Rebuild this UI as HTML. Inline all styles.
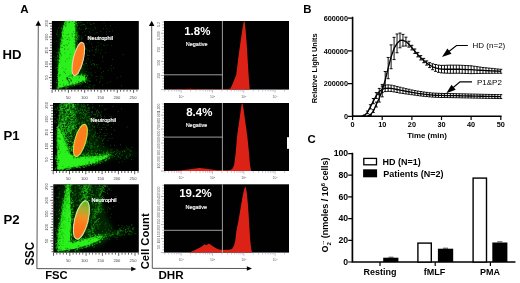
<!DOCTYPE html>
<html><head><meta charset="utf-8"><title>Figure</title>
<style>
html,body{margin:0;padding:0;background:#fff;}
svg{display:block;}
text{font-family:"Liberation Sans", sans-serif;}
.b{font-weight:bold;}
</style></head><body>
<svg width="520" height="283" viewBox="0 0 520 283">
<defs>
<filter id="bl1" x="-20%" y="-20%" width="140%" height="140%"><feGaussianBlur stdDeviation="0.7"/></filter>
<filter id="bl2" x="-30%" y="-30%" width="160%" height="160%"><feGaussianBlur stdDeviation="2"/></filter>
<filter id="bl0" x="-5%" y="-5%" width="110%" height="110%"><feGaussianBlur stdDeviation="0.35"/></filter>
<linearGradient id="og3" x1="0" y1="0" x2="0" y2="1"><stop offset="0" stop-color="#62b42a"/><stop offset="0.22" stop-color="#a4b030"/><stop offset="0.42" stop-color="#ee9222"/><stop offset="0.62" stop-color="#ff781a"/><stop offset="1" stop-color="#ff6c18"/></linearGradient>
</defs>
<rect width="520" height="283" fill="#fff"/>
<g opacity="0.999">
<g>
<rect x="51.9" y="21.0" width="86.9" height="68.6" fill="#000"/>
<clipPath id="c1"><rect x="52.4" y="21.0" width="86.4" height="68.6"/></clipPath>
<g clip-path="url(#c1)">
<polygon points="61.0,21.0 77.5,21.0 78.0,45.0 86.0,72.0 88.0,82.0 57.0,90.0 56.5,60.0" fill="#18c010" fill-opacity="0.22" filter="url(#bl2)"/>
<polygon points="64.8,21.0 75.4,21.0 75.6,50.0 74.5,60.0 73.0,70.0 72.0,76.0 78.0,75.8 84.6,74.4 85.4,80.4 75.0,84.0 58.0,88.4 58.0,72.0 59.0,58.0 60.5,45.0 62.6,30.0" fill="#2cf01a" filter="url(#bl1)"/>
<path d="M73.7 84.6h1.0M71.6 20.7h1.0M75.9 50.9h1.0M77.9 75.4h1.0M76.7 43.1h1.0M73.6 75.3h1.0M57.3 78.4h1.0M85.5 77.8h1.0M76.1 54.7h1.0M60.3 43.2h1.0M57.6 69.4h1.0M81.9 82.2h1.0M71.9 20.2h1.0M67.5 87.3h1.0M60.2 43.1h1.0M66.3 88.0h1.0M84.3 81.0h1.0M57.7 74.5h1.0M74.3 61.9h1.0M76.0 75.8h1.0M85.4 79.4h1.0M76.5 25.0h1.0M81.2 74.6h1.0M77.0 37.7h1.0M64.3 86.8h1.0M73.0 73.9h1.0M57.1 76.5h1.0M77.5 84.2h1.0M74.6 20.1h1.0M57.3 56.9h1.0M77.2 75.5h1.0M75.6 28.8h1.0M85.7 80.1h1.0M72.8 72.3h1.0M75.8 37.0h1.0M60.2 45.3h1.0M72.6 75.3h1.0M57.7 60.4h1.0M56.8 67.5h1.0M76.3 51.6h1.0M70.0 20.9h1.0M69.9 20.9h1.0M61.0 28.2h1.0M62.5 28.8h1.0M58.7 49.3h1.0M76.5 25.8h1.0M57.2 59.8h1.0M57.9 65.7h1.0M77.8 73.5h1.0M76.0 41.2h1.0M55.8 82.6h1.0M72.8 73.7h1.0M67.4 20.9h1.0M62.9 26.0h1.0M61.3 32.6h1.0M84.8 75.5h1.0M76.8 48.6h1.0M75.1 56.0h1.0M75.2 57.4h1.0M73.4 74.4h1.0M74.5 84.7h1.0M84.5 81.3h1.0M57.4 70.2h1.0M76.8 83.7h1.0M69.5 85.9h1.0M75.3 55.4h1.0M86.8 75.8h1.0M60.5 88.9h1.0M58.0 76.1h1.0M86.0 77.6h1.0M62.2 31.3h1.0M76.3 57.5h1.0M76.1 35.2h1.0M75.8 32.4h1.0M76.2 23.6h1.0M59.9 39.1h1.0M75.8 38.4h1.0M76.8 36.3h1.0M62.6 29.3h1.0M77.7 73.1h1.0M76.5 39.6h1.0M76.2 45.9h1.0M70.5 85.3h1.0M58.3 88.7h1.0M64.1 23.6h1.0M74.7 58.5h1.0M76.2 33.9h1.0M75.7 57.3h1.0M57.4 74.7h1.0M58.7 56.4h1.0M60.2 45.4h1.0M85.7 77.9h1.0M74.0 66.9h1.0M77.6 44.7h1.0M58.6 53.2h1.0M77.3 74.5h1.0M64.0 24.1h1.0M56.8 86.4h1.0M79.4 75.3h1.0M75.5 23.2h1.0M76.2 40.0h1.0M56.5 80.2h1.0M76.2 38.9h1.0M63.0 25.7h1.0M63.1 27.0h1.0M73.6 66.3h1.0M84.3 81.4h1.0M79.0 82.6h1.0M65.7 21.0h1.0M65.3 88.0h1.0M57.7 82.5h1.0M73.7 69.4h1.0M56.4 88.0h1.0M75.9 84.2h1.0M58.3 51.8h1.0M57.1 76.0h1.0M57.0 87.9h1.0M57.6 88.2h1.0M65.4 20.1h1.0M59.1 57.2h1.0M74.0 85.4h1.0M75.6 23.9h1.0M75.4 75.7h1.0M83.6 81.7h1.0M59.8 89.4h1.0M58.0 67.0h1.0M75.6 21.4h1.0M57.7 79.2h1.0M85.3 78.9h1.0M74.8 59.0h1.0M65.7 86.6h1.0M77.7 36.1h1.0M75.8 34.4h1.0M57.7 52.9h1.0M57.9 74.2h1.0M69.3 20.4h1.0M65.5 20.0h1.0M75.9 35.9h1.0M77.2 32.1h1.0M61.6 34.0h1.0M75.9 63.1h1.0M73.5 73.4h1.0M72.7 75.6h1.0M61.6 32.3h1.0M75.1 55.5h1.0M58.9 54.5h1.0M71.6 86.0h1.0M58.0 65.3h1.0M73.7 20.4h1.0M74.0 64.3h1.0M77.2 57.8h1.0M57.6 82.8h1.0M80.7 74.2h1.0M80.9 74.3h1.0M72.9 71.5h1.0M75.8 21.6h1.0M79.6 83.7h1.0M76.9 49.5h1.0M68.8 19.5h1.0M70.6 20.5h1.0M85.0 82.5h1.0M76.9 55.6h1.0M62.2 31.3h1.0M57.4 63.0h1.0M85.4 78.6h1.0M58.8 59.9h1.0M74.3 65.4h1.0M75.5 33.6h1.0" stroke="#22d816" stroke-width="1.0" stroke-opacity="0.70" fill="none"/>
<path d="M72.4 68.8h0.9M74.4 23.5h0.9M78.5 82.6h0.9M75.3 26.8h0.9M83.0 75.0h0.9M59.1 88.0h0.9M65.4 25.6h0.9M73.6 62.7h0.9M74.9 36.5h0.9M60.0 53.9h0.9M71.5 84.6h0.9M75.5 47.7h0.9M64.8 86.3h0.9M59.5 75.0h0.9M73.0 31.8h0.9M81.8 75.0h0.9M63.1 85.8h0.9M63.0 30.8h0.9M59.7 84.4h0.9M75.3 40.8h0.9M58.9 62.5h0.9M75.5 33.8h0.9M61.5 44.0h0.9M61.3 41.8h0.9M60.0 53.3h0.9M70.5 74.9h0.9M75.5 42.3h0.9M82.2 80.8h0.9M82.0 75.0h0.9M61.7 38.9h0.9M58.2 86.7h0.9M74.8 21.7h0.9M75.3 39.8h0.9M72.7 71.8h0.9M75.5 37.8h0.9M60.9 43.4h0.9M59.8 87.5h0.9M71.9 73.0h0.9M72.2 77.2h0.9M65.7 22.5h0.9M75.4 28.9h0.9M73.8 39.7h0.9M69.0 22.1h0.9M72.1 83.6h0.9M64.1 24.8h0.9M75.4 40.7h0.9M72.7 69.9h0.9M65.7 24.0h0.9M60.8 47.3h0.9M58.7 76.2h0.9M65.0 23.3h0.9M75.0 51.4h0.9M75.2 46.0h0.9M62.6 38.9h0.9M59.3 56.8h0.9M59.0 58.7h0.9M72.2 70.3h0.9M79.1 77.0h0.9M74.3 33.4h0.9M60.9 55.8h0.9M74.3 36.9h0.9M64.6 86.0h0.9M61.9 37.0h0.9M61.8 38.0h0.9M82.4 75.8h0.9M75.5 82.8h0.9M75.4 43.6h0.9M65.5 21.2h0.9M70.2 85.2h0.9M78.0 81.4h0.9M69.1 85.4h0.9M59.5 75.0h0.9M69.1 83.9h0.9M75.0 54.0h0.9M61.6 41.9h0.9M60.0 50.9h0.9M72.3 71.6h0.9M68.3 22.3h0.9M72.9 70.3h0.9M59.4 58.9h0.9M72.0 21.1h0.9M82.8 76.2h0.9M74.5 37.5h0.9M74.2 26.6h0.9M83.2 75.2h0.9M74.2 23.5h0.9M75.2 25.6h0.9M63.0 34.1h0.9M73.9 58.8h0.9M74.4 53.5h0.9" stroke="#042600" stroke-width="0.9" stroke-opacity="0.55" fill="none"/>
<path d="M66.8 79.8h1.1M70.8 80.7h1.1M70.3 79.9h1.1M66.4 78.7h1.1M70.8 81.0h1.1M66.8 77.6h1.1M68.0 80.9h1.1M67.5 78.8h1.1M69.0 82.1h1.1M66.4 77.7h1.1M67.0 79.6h1.1M69.1 78.5h1.1" stroke="#021" stroke-width="1.1" stroke-opacity="0.75" fill="none"/>
<path d="M71.8 34.8h0.9M64.1 72.3h0.9M66.1 85.2h0.9M71.6 33.6h0.9M64.1 49.1h0.9M62.0 47.5h0.9M63.8 86.7h0.9M82.6 80.6h0.9M63.1 84.1h0.9M68.2 43.4h0.9M65.7 44.7h0.9M67.8 76.4h0.9M68.2 83.0h0.9M63.3 45.6h0.9M69.3 75.7h0.9M78.5 81.6h0.9M67.3 39.4h0.9M65.2 69.3h0.9M66.7 39.6h0.9M58.1 71.9h0.9M64.4 53.0h0.9M68.6 37.9h0.9M69.8 54.3h0.9M74.6 43.1h0.9M66.8 45.4h0.9M63.4 71.7h0.9M64.8 25.4h0.9M65.3 26.7h0.9M60.6 54.6h0.9M64.4 49.1h0.9M78.5 78.1h0.9M73.5 46.1h0.9M64.8 37.5h0.9M62.2 80.6h0.9M73.8 43.0h0.9M71.9 36.6h0.9M71.0 76.2h0.9M65.1 73.4h0.9M64.0 45.9h0.9M65.0 61.4h0.9M66.6 34.7h0.9M68.8 58.1h0.9M62.5 67.9h0.9M69.2 40.1h0.9M66.4 85.2h0.9M66.6 59.2h0.9M67.8 49.1h0.9M68.0 34.3h0.9M58.2 81.8h0.9M69.6 76.3h0.9" stroke="#031a00" stroke-width="0.9" stroke-opacity="0.45" fill="none"/>
<path d="M105.3 52.7h0.9M95.6 32.8h0.9M97.4 64.7h0.9M78.0 82.6h0.9M96.1 46.7h0.9M88.6 55.6h0.9M84.4 56.7h0.9M87.0 83.6h0.9M91.3 75.6h0.9M88.5 86.4h0.9M78.9 84.8h0.9M84.4 87.0h0.9M81.6 83.7h0.9M76.6 47.8h0.9M95.5 76.9h0.9M89.4 32.7h0.9M78.7 48.9h0.9M87.7 78.4h0.9M81.2 36.5h0.9M85.5 48.6h0.9M92.6 30.2h0.9M77.9 38.5h0.9M81.7 24.7h0.9M111.8 59.5h0.9M76.2 77.8h0.9M80.7 29.8h0.9M93.4 63.8h0.9M88.6 42.4h0.9M95.7 50.4h0.9M86.8 65.9h0.9M93.2 23.6h0.9M82.0 63.2h0.9M88.4 72.9h0.9M76.8 73.9h0.9M86.3 53.5h0.9M78.8 29.1h0.9M88.5 28.1h0.9M89.0 51.4h0.9M80.9 64.4h0.9M76.3 27.5h0.9M79.1 56.1h0.9M105.3 25.6h0.9M92.6 85.3h0.9M76.4 31.1h0.9M111.3 70.8h0.9M120.3 76.3h0.9M92.7 54.8h0.9M121.1 85.7h0.9M84.8 74.5h0.9M81.1 84.0h0.9M90.5 72.4h0.9M82.3 32.6h0.9M86.9 76.3h0.9M84.3 31.6h0.9M114.2 35.9h0.9M76.5 39.5h0.9M90.9 24.5h0.9M76.6 34.1h0.9M97.1 67.3h0.9M109.9 81.6h0.9M90.6 29.7h0.9M102.0 57.3h0.9M86.5 80.1h0.9M88.1 59.0h0.9M106.8 29.0h0.9M93.0 88.1h0.9M87.7 75.1h0.9M88.4 39.6h0.9M98.3 46.0h0.9M77.3 72.9h0.9M85.9 71.5h0.9M79.8 25.2h0.9M81.5 64.6h0.9M87.8 87.5h0.9M97.5 42.8h0.9M88.9 22.1h0.9M85.5 63.0h0.9M78.0 50.8h0.9M112.0 30.8h0.9M78.9 37.1h0.9M78.1 22.2h0.9M79.0 45.6h0.9M88.5 36.9h0.9M85.9 60.9h0.9M85.7 63.6h0.9M82.1 53.6h0.9M102.5 38.2h0.9M105.9 31.9h0.9M96.0 80.0h0.9M89.7 74.1h0.9M86.9 22.8h0.9M83.7 65.0h0.9M90.6 65.0h0.9M82.0 51.6h0.9M101.5 38.5h0.9M86.6 82.2h0.9M96.1 49.0h0.9M81.7 37.8h0.9M103.6 22.8h0.9M86.6 58.7h0.9M84.8 35.3h0.9M79.4 62.5h0.9M100.3 76.2h0.9M77.1 33.6h0.9M81.2 25.2h0.9M89.4 81.2h0.9M81.5 22.4h0.9M102.4 78.2h0.9M76.6 71.4h0.9M95.0 52.1h0.9M77.2 37.5h0.9M83.9 24.6h0.9M90.5 68.3h0.9M100.3 78.3h0.9M79.2 58.9h0.9M89.0 51.0h0.9M81.0 39.7h0.9M96.1 64.8h0.9M87.6 80.6h0.9M78.6 23.0h0.9M76.8 71.5h0.9M88.5 84.9h0.9M76.4 80.6h0.9M91.1 43.9h0.9M78.5 64.0h0.9M113.0 68.1h0.9M100.0 53.3h0.9M116.7 77.9h0.9M86.8 51.1h0.9M107.8 70.3h0.9M89.2 36.1h0.9M82.2 63.5h0.9M109.0 31.6h0.9M93.6 23.8h0.9M106.6 45.0h0.9M100.3 31.4h0.9M80.9 68.1h0.9M76.9 64.2h0.9M85.1 26.4h0.9M102.3 61.3h0.9M96.5 76.6h0.9M99.7 81.4h0.9M107.3 82.9h0.9M89.8 84.9h0.9M85.0 29.5h0.9M83.2 24.3h0.9M93.9 64.2h0.9M101.4 76.9h0.9M85.5 28.7h0.9M86.3 28.5h0.9M76.5 43.3h0.9M87.5 50.2h0.9M89.0 40.8h0.9M77.7 69.7h0.9M86.1 86.2h0.9M87.0 55.5h0.9M90.0 24.1h0.9M95.0 49.5h0.9M103.0 45.1h0.9M87.4 68.9h0.9M87.5 79.4h0.9M78.8 28.1h0.9M80.4 22.1h0.9M85.4 35.5h0.9M79.6 22.3h0.9M122.8 54.7h0.9M106.3 34.3h0.9M77.6 54.9h0.9M94.4 39.4h0.9M102.3 84.9h0.9M78.5 68.6h0.9M87.6 55.2h0.9M94.6 27.4h0.9M91.4 74.5h0.9M85.7 63.8h0.9M104.3 45.7h0.9M89.9 81.3h0.9M85.9 27.7h0.9M78.9 35.7h0.9M78.5 39.5h0.9M92.3 47.3h0.9M87.7 80.9h0.9M77.9 57.4h0.9M94.8 72.2h0.9M76.5 45.2h0.9M100.5 43.8h0.9M94.3 66.1h0.9M103.1 71.4h0.9M84.8 73.5h0.9M92.0 60.6h0.9M89.3 80.9h0.9M89.5 37.8h0.9M81.2 68.8h0.9M89.4 78.2h0.9M81.6 38.5h0.9M84.2 43.7h0.9M86.0 43.8h0.9M77.4 34.6h0.9M103.1 28.8h0.9M80.3 86.1h0.9M89.4 87.5h0.9M86.0 74.9h0.9M77.9 35.1h0.9M94.1 64.5h0.9M85.1 47.9h0.9M83.2 24.3h0.9M100.2 68.2h0.9M93.8 55.3h0.9M88.8 31.4h0.9M90.0 62.2h0.9M99.1 82.5h0.9M91.7 50.6h0.9M101.3 50.0h0.9M88.7 37.2h0.9M82.1 73.6h0.9M110.5 68.6h0.9M91.4 64.7h0.9M96.5 52.2h0.9M85.2 28.5h0.9M98.1 49.9h0.9M81.4 63.9h0.9M102.3 38.7h0.9M92.6 63.4h0.9M84.7 49.3h0.9M93.8 34.2h0.9M111.0 65.6h0.9M79.0 54.6h0.9M92.6 86.9h0.9M96.7 32.7h0.9M81.1 74.1h0.9M95.2 28.7h0.9M83.5 60.3h0.9M102.1 56.1h0.9M82.9 64.6h0.9M85.8 49.3h0.9M94.2 85.1h0.9M82.4 48.1h0.9M101.0 72.8h0.9M111.3 45.7h0.9M110.1 25.8h0.9" stroke="#1c9a16" stroke-width="0.9" stroke-opacity="0.50" fill="none"/>
<path d="M55.8 41.2h0.9M53.6 42.1h0.9M57.1 55.5h0.9M56.5 34.7h0.9M55.4 57.6h0.9M61.5 47.3h0.9M55.4 60.5h0.9M56.8 32.2h0.9M54.6 59.3h0.9M60.4 52.4h0.9M57.5 49.0h0.9M55.4 68.3h0.9M56.5 52.7h0.9M60.5 61.2h0.9M57.5 36.1h0.9M58.2 28.0h0.9M60.6 39.0h0.9M60.7 34.8h0.9M56.7 34.2h0.9M57.1 30.9h0.9M53.5 56.6h0.9M55.9 33.8h0.9" stroke="#1c9a16" stroke-width="0.9" stroke-opacity="0.50" fill="none"/>
</g>
<ellipse cx="78.3" cy="59.0" rx="5.0" ry="17.0" transform="rotate(13.5 78.3 59.0)" fill="#ff7d1a" stroke="#ecd4b4" stroke-width="1.1"/>
<text x="87.6" y="40.2" font-size="5.2" fill="#fff" stroke="#fff" stroke-width="0.2" textLength="25.4" lengthAdjust="spacingAndGlyphs">Neutrophil</text>
<path d="M52.1 89.6v3.2M55.4 89.6v2.0M58.6 89.6v2.0M61.9 89.6v2.0M65.1 89.6v2.0M68.4 89.6v3.2M71.7 89.6v2.0M74.9 89.6v2.0M78.2 89.6v2.0M81.4 89.6v2.0M84.7 89.6v3.2M88.0 89.6v2.0M91.2 89.6v2.0M94.5 89.6v2.0M97.7 89.6v2.0M101.0 89.6v3.2M104.3 89.6v2.0M107.5 89.6v2.0M110.8 89.6v2.0M114.0 89.6v2.0M117.3 89.6v3.2M120.6 89.6v2.0M123.8 89.6v2.0M127.1 89.6v2.0M130.3 89.6v2.0M133.6 89.6v3.2M136.9 89.6v2.0" stroke="#333" stroke-width="0.8" fill="none"/>
<text x="68.2" y="98.6" font-size="4.1" fill="#444" text-anchor="middle">50</text>
<text x="84.4" y="98.6" font-size="4.1" fill="#444" text-anchor="middle">100</text>
<text x="100.6" y="98.6" font-size="4.1" fill="#444" text-anchor="middle">150</text>
<text x="116.8" y="98.6" font-size="4.1" fill="#444" text-anchor="middle">200</text>
<text x="133.0" y="98.6" font-size="4.1" fill="#444" text-anchor="middle">250</text>
<path d="M48.9 23.4h3.0M50.1 26.1h1.8M50.1 28.8h1.8M50.1 31.5h1.8M50.1 34.2h1.8M48.9 37.0h3.0M50.1 39.7h1.8M50.1 42.4h1.8M50.1 45.1h1.8M50.1 47.8h1.8M48.9 50.5h3.0M50.1 53.2h1.8M50.1 55.9h1.8M50.1 58.6h1.8M50.1 61.3h1.8M48.9 64.0h3.0M50.1 66.8h1.8M50.1 69.5h1.8M50.1 72.2h1.8M50.1 74.9h1.8M48.9 77.6h3.0M50.1 80.3h1.8M50.1 83.0h1.8M50.1 85.7h1.8M50.1 88.4h1.8" stroke="#333" stroke-width="0.8" fill="none"/>
<text transform="translate(47.6 23.4) rotate(-90)" font-size="4.1" fill="#444" text-anchor="middle">250</text>
<text transform="translate(47.6 37.0) rotate(-90)" font-size="4.1" fill="#444" text-anchor="middle">200</text>
<text transform="translate(47.6 50.5) rotate(-90)" font-size="4.1" fill="#444" text-anchor="middle">150</text>
<text transform="translate(47.6 64.1) rotate(-90)" font-size="4.1" fill="#444" text-anchor="middle">100</text>
<text transform="translate(47.6 77.6) rotate(-90)" font-size="4.1" fill="#444" text-anchor="middle">50</text>
</g>
<g>
<rect x="53.0" y="103.0" width="85.8" height="68.0" fill="#000"/>
<clipPath id="c2"><rect x="53.5" y="103.0" width="85.3" height="68.0"/></clipPath>
<g clip-path="url(#c2)">
<polygon points="64.0,103.0 86.0,103.0 92.0,128.0 104.0,146.0 114.0,152.0 112.0,158.0 98.0,164.0 60.0,172.0 60.0,130.0" fill="#18c010" fill-opacity="0.16" filter="url(#bl2)"/>
<polygon points="86.0,153.0 112.0,149.5 136.0,150.5 138.5,156.0 112.0,160.0 95.0,163.0" fill="#1fd015" fill-opacity="0.08" filter="url(#bl2)"/>
<polygon points="61.0,103.0 74.2,103.0 74.6,125.0 73.5,140.0 72.0,152.0 60.0,152.0 57.4,140.0 58.0,125.0 59.5,112.0" fill="#189a12" filter="url(#bl1)"/>
<path d="M62.6 126.5h1.0M64.8 134.2h1.0M68.7 120.8h1.0M58.4 143.6h1.0M73.0 141.4h1.0M59.8 143.7h1.0M68.3 103.7h1.0M68.7 115.3h1.0M61.4 141.0h1.0M63.4 110.5h1.0M73.0 141.8h1.0M60.3 146.7h1.0M67.9 141.3h1.0M68.9 146.8h1.0M71.0 144.1h1.0M60.8 136.9h1.0M66.5 139.4h1.0M64.9 146.3h1.0M66.9 116.0h1.0M61.4 109.8h1.0M65.9 105.9h1.0M65.4 110.1h1.0M65.9 127.4h1.0M66.7 145.3h1.0M65.4 130.6h1.0M68.8 144.2h1.0M63.8 123.5h1.0M73.9 106.7h1.0M68.4 134.2h1.0M57.9 132.9h1.0M69.1 148.6h1.0M63.1 151.1h1.0M66.2 126.7h1.0M72.8 104.7h1.0M69.8 133.6h1.0M63.2 145.2h1.0M63.7 126.3h1.0M66.4 140.8h1.0M61.0 124.3h1.0M64.7 130.1h1.0M71.6 117.4h1.0M71.6 122.8h1.0M66.1 116.3h1.0M66.1 150.8h1.0M68.7 141.8h1.0M63.1 118.5h1.0M62.5 131.7h1.0M68.3 141.4h1.0M58.1 138.4h1.0M72.6 129.7h1.0M73.2 132.8h1.0M68.7 141.7h1.0M73.0 133.0h1.0M68.0 133.7h1.0M69.4 132.2h1.0M69.1 113.4h1.0M68.9 125.4h1.0M70.5 108.0h1.0M70.7 147.8h1.0M68.7 121.1h1.0M71.5 141.5h1.0M67.1 115.6h1.0M62.6 123.7h1.0M62.9 124.1h1.0M68.4 148.8h1.0M58.3 130.8h1.0M71.3 131.2h1.0M73.2 124.9h1.0M67.6 148.9h1.0M74.3 126.3h1.0M64.5 108.0h1.0M68.5 113.4h1.0M58.9 145.6h1.0M69.8 114.9h1.0M70.0 112.2h1.0M58.3 140.9h1.0M69.7 144.9h1.0M70.0 107.1h1.0M68.2 137.8h1.0M65.3 148.7h1.0M61.8 150.3h1.0M69.7 103.6h1.0M57.7 134.9h1.0M71.5 106.9h1.0M62.8 138.7h1.0M60.3 145.2h1.0M65.8 105.9h1.0M63.7 131.2h1.0M64.9 136.2h1.0M59.9 142.1h1.0M63.6 134.6h1.0M68.2 123.5h1.0M64.0 141.5h1.0M67.1 117.3h1.0M69.5 143.5h1.0M63.1 132.7h1.0M67.7 118.1h1.0M64.8 146.5h1.0M63.9 136.6h1.0M67.8 146.9h1.0M71.3 116.9h1.0M64.7 131.7h1.0M71.4 146.5h1.0M71.4 145.5h1.0M67.2 116.4h1.0M72.0 142.5h1.0M69.2 147.8h1.0M63.4 107.2h1.0M66.9 142.1h1.0M60.8 139.8h1.0M73.4 114.5h1.0M67.8 136.2h1.0M65.4 113.1h1.0M61.8 139.8h1.0M71.0 125.5h1.0M58.9 142.5h1.0M70.7 114.4h1.0M67.4 146.9h1.0M72.6 128.6h1.0M65.6 131.9h1.0M60.7 112.4h1.0M60.5 137.4h1.0M63.6 130.7h1.0M64.3 128.3h1.0M59.2 134.0h1.0M70.9 110.7h1.0M67.7 119.9h1.0M66.3 104.0h1.0M72.3 126.8h1.0M67.2 115.8h1.0M70.8 123.9h1.0M71.5 150.2h1.0M61.8 104.9h1.0M60.9 111.9h1.0M67.0 145.7h1.0M65.3 149.4h1.0M73.1 106.1h1.0M67.7 122.5h1.0M61.8 130.7h1.0M68.4 149.9h1.0M68.9 122.3h1.0M65.1 110.8h1.0M61.2 104.9h1.0M61.8 120.2h1.0M71.8 105.3h1.0M70.9 137.8h1.0M68.5 151.3h1.0M70.4 149.0h1.0M69.0 117.6h1.0M67.6 140.1h1.0M59.2 118.9h1.0M61.8 109.1h1.0M65.7 111.3h1.0M61.5 110.0h1.0M69.1 103.6h1.0M69.7 112.6h1.0M61.2 148.8h1.0M72.3 146.5h1.0M59.8 124.9h1.0M71.9 133.8h1.0M65.2 119.6h1.0M71.6 126.4h1.0M68.2 110.0h1.0M61.2 105.8h1.0M69.7 130.1h1.0M59.9 145.7h1.0M62.0 123.2h1.0M60.1 116.3h1.0M71.8 119.4h1.0M60.3 127.1h1.0M62.9 147.3h1.0M68.9 113.3h1.0M65.6 117.0h1.0M61.8 112.9h1.0M63.7 151.6h1.0M59.1 117.2h1.0M72.8 105.8h1.0M69.9 117.4h1.0M71.3 119.7h1.0M71.7 128.8h1.0M60.6 124.3h1.0M73.1 113.7h1.0M67.2 109.8h1.0M60.5 140.8h1.0M69.6 112.6h1.0M67.9 127.3h1.0M62.1 113.1h1.0M67.9 137.7h1.0M71.4 131.6h1.0M60.9 106.2h1.0M70.0 123.0h1.0M69.8 105.7h1.0M71.3 119.4h1.0M71.9 145.4h1.0M65.9 103.8h1.0M73.1 126.4h1.0M72.4 116.0h1.0M60.6 143.7h1.0M63.7 111.0h1.0M63.8 132.1h1.0M65.1 128.3h1.0M59.5 138.0h1.0M71.4 145.4h1.0M62.9 137.8h1.0M64.0 139.8h1.0M73.8 127.2h1.0M66.2 129.0h1.0M66.6 104.0h1.0M74.0 114.0h1.0M60.5 108.0h1.0M61.7 143.0h1.0M69.4 112.6h1.0M67.3 128.6h1.0M69.5 108.0h1.0M72.4 138.1h1.0M65.9 127.5h1.0M62.2 109.0h1.0M64.4 109.7h1.0M67.6 145.2h1.0M59.9 131.1h1.0M70.2 111.1h1.0M71.6 148.9h1.0M64.1 123.6h1.0M71.8 128.8h1.0M64.2 149.1h1.0M70.8 119.6h1.0M61.5 119.4h1.0M64.9 151.1h1.0M71.2 147.7h1.0M71.4 144.5h1.0M58.3 128.4h1.0M61.7 123.7h1.0M68.3 120.9h1.0M66.5 106.4h1.0M64.8 127.7h1.0M73.5 134.0h1.0M71.3 146.3h1.0M72.6 104.7h1.0M68.4 116.0h1.0M69.1 116.4h1.0M66.7 148.3h1.0M68.1 115.3h1.0M66.3 124.3h1.0M73.8 117.1h1.0M62.7 134.7h1.0M59.5 132.1h1.0M73.8 128.2h1.0M62.0 125.9h1.0M66.6 110.3h1.0M62.4 122.9h1.0M62.4 114.9h1.0M58.9 129.8h1.0M71.8 132.9h1.0M67.2 134.9h1.0M60.9 137.8h1.0M65.3 129.9h1.0M67.9 126.0h1.0M62.7 114.9h1.0M61.2 128.1h1.0M64.0 131.7h1.0" stroke="#30f01c" stroke-width="1.0" stroke-opacity="0.80" fill="none"/>
<polygon points="57.4,126.0 60.0,130.0 63.0,136.0 65.2,142.0 67.0,148.0 69.5,152.0 72.5,155.5 76.3,157.4 85.0,156.4 95.0,155.9 106.0,155.0 110.5,155.6 107.0,157.8 94.7,163.3 76.3,166.8 57.4,169.9" fill="#2cf01a" filter="url(#bl1)"/>
<path d="M72.2 114.7h1.0M67.0 127.1h1.0M72.4 124.6h1.0M58.5 122.0h1.0M65.0 139.0h1.0M59.3 114.0h1.0M60.1 119.5h1.0M63.5 136.1h1.0M68.0 144.6h1.0M71.5 128.4h1.0M70.1 139.4h1.0M70.5 126.3h1.0M70.9 137.7h1.0M73.1 109.2h1.0M72.4 103.2h1.0M70.6 131.7h1.0M67.2 123.5h1.0M70.9 145.8h1.0M67.8 121.6h1.0M65.2 125.4h1.0M69.8 117.4h1.0M64.1 130.2h1.0M64.0 118.8h1.0M70.9 144.6h1.0M66.0 124.8h1.0M60.6 117.9h1.0M67.4 107.3h1.0M73.2 118.9h1.0M71.9 144.1h1.0M73.9 113.0h1.0M67.1 127.4h1.0M73.2 140.9h1.0M66.3 128.3h1.0M69.2 122.1h1.0M63.6 132.1h1.0M69.0 128.7h1.0M59.1 121.3h1.0M64.3 130.5h1.0M67.3 146.1h1.0M74.0 126.8h1.0M65.0 133.6h1.0M66.5 143.0h1.0M60.3 118.6h1.0M66.2 108.4h1.0M72.8 136.8h1.0M71.5 151.5h1.0M72.7 123.6h1.0M60.1 117.2h1.0M66.2 127.7h1.0M60.6 111.9h1.0M68.2 132.6h1.0M68.3 105.1h1.0M71.9 131.7h1.0M68.9 112.6h1.0M66.0 130.1h1.0M67.3 123.1h1.0M70.5 108.2h1.0M66.4 143.3h1.0M67.9 142.5h1.0M70.7 118.8h1.0M69.7 120.3h1.0M60.3 116.1h1.0M67.4 120.1h1.0M65.1 121.9h1.0M65.0 133.4h1.0M61.7 105.2h1.0M71.4 117.9h1.0M61.6 122.1h1.0M69.8 113.8h1.0M65.7 141.8h1.0M61.6 111.5h1.0M63.6 112.1h1.0M74.1 117.2h1.0M67.1 108.6h1.0M66.6 121.9h1.0M64.3 106.2h1.0M63.4 115.0h1.0M60.7 116.9h1.0M61.5 104.7h1.0M68.8 119.7h1.0M71.8 109.3h1.0M71.2 110.8h1.0M66.1 114.1h1.0M65.2 109.4h1.0M69.6 115.8h1.0M72.9 131.8h1.0M63.7 115.1h1.0M67.9 113.4h1.0M72.4 109.0h1.0M66.2 129.6h1.0M64.0 135.2h1.0M67.2 118.2h1.0M64.1 107.2h1.0M62.9 135.5h1.0M63.6 127.5h1.0M62.5 106.2h1.0M62.8 114.1h1.0M62.3 122.8h1.0M73.0 141.0h1.0M72.6 145.2h1.0M59.7 116.5h1.0M68.8 120.2h1.0M64.5 135.3h1.0M69.4 115.2h1.0M72.0 120.3h1.0M68.2 111.9h1.0M70.0 137.9h1.0M60.2 112.7h1.0M62.6 121.7h1.0M68.4 111.8h1.0M71.8 130.9h1.0M69.7 115.5h1.0M64.9 136.5h1.0M63.4 103.0h1.0M71.7 141.0h1.0M62.3 105.1h1.0M72.1 132.8h1.0M70.3 107.2h1.0M69.3 122.3h1.0M70.3 143.6h1.0M62.2 107.4h1.0M73.7 123.8h1.0M73.4 136.9h1.0M70.1 143.7h1.0M68.2 125.2h1.0M64.8 128.1h1.0M73.4 109.3h1.0M70.5 105.1h1.0M69.5 142.5h1.0M61.9 129.8h1.0M66.8 115.2h1.0M64.5 112.9h1.0M62.7 109.7h1.0M69.6 135.8h1.0M61.5 114.8h1.0M66.3 124.8h1.0M73.5 120.2h1.0M66.8 140.3h1.0M67.7 125.6h1.0M70.6 143.7h1.0M59.4 117.2h1.0M63.6 113.1h1.0M65.1 108.5h1.0M63.0 126.0h1.0M63.6 111.2h1.0M59.3 127.0h1.0M64.9 112.3h1.0M66.7 103.4h1.0M73.2 134.6h1.0M68.2 148.8h1.0M68.6 115.3h1.0M61.6 109.8h1.0M71.8 117.5h1.0M71.9 148.4h1.0M71.7 139.4h1.0M63.0 112.0h1.0M71.6 118.7h1.0M63.7 130.0h1.0M61.5 105.0h1.0M67.2 133.8h1.0M71.5 137.6h1.0M65.9 127.5h1.0M60.1 117.7h1.0M67.4 106.9h1.0M69.2 111.0h1.0M65.0 112.3h1.0M69.8 103.1h1.0M71.9 144.9h1.0M70.9 123.8h1.0M66.3 123.6h1.0M63.2 124.5h1.0M68.9 143.5h1.0M72.9 111.1h1.0M62.5 124.7h1.0M67.1 120.1h1.0M60.8 107.2h1.0M63.0 125.6h1.0M73.9 133.4h1.0M71.4 105.9h1.0M69.0 132.8h1.0M62.5 131.0h1.0M73.8 126.6h1.0M68.5 117.7h1.0M69.1 124.9h1.0M63.8 131.5h1.0M64.6 129.0h1.0M67.1 122.4h1.0M72.7 129.9h1.0M61.8 107.7h1.0M66.5 115.3h1.0M65.8 130.1h1.0M61.3 131.1h1.0M59.3 128.1h1.0M67.5 106.9h1.0M64.4 106.6h1.0M66.9 138.0h1.0M70.4 108.6h1.0M64.1 111.4h1.0M73.9 130.6h1.0M70.7 109.7h1.0M70.8 105.8h1.0M61.5 121.2h1.0M61.1 117.7h1.0M69.6 123.9h1.0M72.7 133.4h1.0M72.4 130.6h1.0M69.1 143.5h1.0M59.5 121.3h1.0M70.1 149.5h1.0M69.8 105.1h1.0M67.8 107.9h1.0M66.8 142.3h1.0M69.0 115.5h1.0M60.7 124.9h1.0M71.8 131.5h1.0M60.6 130.2h1.0M64.0 110.1h1.0M72.5 129.4h1.0M69.3 142.6h1.0M73.7 103.7h1.0M63.3 110.4h1.0M71.2 104.7h1.0M69.1 122.2h1.0M65.6 110.8h1.0M71.9 122.3h1.0M72.4 132.9h1.0M58.7 119.1h1.0M67.5 105.1h1.0M60.3 120.7h1.0M65.4 131.3h1.0M64.1 120.3h1.0M63.1 104.0h1.0M68.9 116.4h1.0M62.1 127.5h1.0M61.9 130.9h1.0M67.0 140.8h1.0M72.4 140.9h1.0M68.3 134.1h1.0M63.6 116.8h1.0M71.1 145.8h1.0M73.5 136.4h1.0M70.1 127.9h1.0M68.3 120.2h1.0M66.9 122.9h1.0M65.7 121.0h1.0M61.6 114.5h1.0M63.4 109.6h1.0M65.2 124.8h1.0M67.2 117.8h1.0M62.6 118.1h1.0M69.9 130.0h1.0M73.5 119.7h1.0M73.2 131.6h1.0M58.6 126.7h1.0M72.9 116.5h1.0M61.8 104.1h1.0M60.2 116.1h1.0M69.5 113.7h1.0M64.3 112.8h1.0M67.8 145.3h1.0M68.5 112.6h1.0M70.0 150.2h1.0M67.7 106.9h1.0M71.3 145.9h1.0M63.3 109.7h1.0M60.6 129.3h1.0M72.5 134.4h1.0M73.3 113.4h1.0M68.6 122.9h1.0M69.1 119.6h1.0M58.4 123.3h1.0M63.2 127.2h1.0M67.7 115.6h1.0M65.4 103.7h1.0M73.3 130.6h1.0M68.0 138.5h1.0M63.1 107.6h1.0M60.1 110.0h1.0M70.6 107.4h1.0M71.4 123.7h1.0M66.7 131.8h1.0M66.9 135.2h1.0M67.7 119.2h1.0M70.1 115.6h1.0M69.6 140.4h1.0M70.7 118.2h1.0M70.7 150.9h1.0M65.2 116.6h1.0M65.6 135.1h1.0M70.7 120.8h1.0M70.4 107.4h1.0M58.4 127.6h1.0M67.0 111.9h1.0M73.6 120.9h1.0M60.0 111.7h1.0M70.1 148.2h1.0M70.8 114.9h1.0M74.3 127.4h1.0M68.3 119.9h1.0M71.2 125.5h1.0M73.7 133.7h1.0M61.3 115.3h1.0M61.9 124.3h1.0M61.4 113.0h1.0M70.5 134.5h1.0" stroke="#021400" stroke-width="1.0" stroke-opacity="0.75" fill="none"/>
<path d="M67.3 145.7h1.1M72.9 138.4h1.1M71.9 151.7h1.1M67.9 140.0h1.1M70.6 142.9h1.1M70.4 153.2h1.1M68.6 150.7h1.1M72.8 136.4h1.1M66.3 136.0h1.1M71.3 134.2h1.1M71.6 153.2h1.1M71.4 132.9h1.1M69.8 137.6h1.1M69.2 134.5h1.1M66.7 142.3h1.1M69.8 134.7h1.1M68.5 143.9h1.1M73.3 140.4h1.1M73.0 149.6h1.1M67.8 136.3h1.1M67.7 133.7h1.1M69.0 145.4h1.1M71.3 147.7h1.1M70.1 145.2h1.1M72.9 149.2h1.1M68.9 139.6h1.1M68.8 141.2h1.1M69.0 135.4h1.1M70.7 154.2h1.1M67.7 146.7h1.1M68.7 137.8h1.1M67.2 134.8h1.1M72.7 150.8h1.1M73.2 133.2h1.1M71.4 139.8h1.1M71.0 145.2h1.1M72.8 144.2h1.1M67.5 147.1h1.1M71.8 141.1h1.1M71.6 141.4h1.1M70.0 146.7h1.1M71.3 139.7h1.1M70.8 145.0h1.1M67.4 146.7h1.1M69.5 149.3h1.1M69.9 143.4h1.1M67.4 135.4h1.1M73.4 144.7h1.1M70.0 144.7h1.1M72.4 137.7h1.1M69.4 147.4h1.1M72.5 153.5h1.1M72.9 133.0h1.1M72.5 135.0h1.1M66.8 138.0h1.1M66.4 140.6h1.1M72.3 144.5h1.1M69.3 134.1h1.1M71.4 142.8h1.1M69.6 151.2h1.1M71.9 135.6h1.1M71.3 140.8h1.1M69.9 137.7h1.1M68.7 140.2h1.1M67.2 145.7h1.1M66.0 136.3h1.1M71.6 138.6h1.1M68.3 137.8h1.1M72.6 134.2h1.1M70.9 152.6h1.1" stroke="#021400" stroke-width="1.1" stroke-opacity="0.85" fill="none"/>
<path d="M74.3 154.5h1.0M62.8 169.3h1.0M56.7 158.4h1.0M102.3 154.8h1.0M64.0 136.3h1.0M56.4 167.8h1.0M83.0 165.8h1.0M105.0 160.9h1.0M100.0 161.8h1.0M58.2 171.2h1.0M76.4 156.8h1.0M64.7 139.3h1.0M57.1 168.3h1.0M68.1 168.3h1.0M63.0 169.3h1.0M110.5 152.2h1.0M55.4 157.4h1.0M57.2 127.3h1.0M83.5 156.5h1.0M92.2 156.0h1.0M96.7 162.7h1.0M82.4 154.6h1.0M104.5 160.5h1.0M62.3 133.3h1.0M87.7 165.0h1.0M88.5 155.7h1.0M83.4 167.4h1.0M56.9 146.9h1.0M63.6 133.9h1.0M55.6 139.3h1.0M98.9 162.2h1.0M69.3 168.4h1.0M75.3 156.0h1.0M109.6 155.0h1.0M56.7 142.1h1.0M78.4 156.4h1.0M84.9 165.8h1.0M56.4 141.1h1.0M60.5 130.7h1.0M103.6 154.7h1.0M91.0 164.6h1.0M66.2 139.7h1.0M94.1 163.5h1.0M88.3 155.2h1.0M82.2 166.1h1.0M67.1 147.8h1.0M77.4 155.9h1.0M62.2 133.2h1.0M95.6 155.1h1.0M64.0 136.1h1.0M82.5 165.9h1.0M65.1 140.8h1.0M85.5 165.5h1.0M98.9 154.4h1.0M57.0 153.0h1.0M56.8 147.7h1.0M66.5 144.0h1.0M97.4 162.6h1.0M57.3 135.7h1.0M66.9 169.7h1.0M83.8 155.9h1.0M61.2 130.0h1.0M64.1 134.5h1.0M80.4 154.4h1.0M62.7 131.2h1.0M78.8 167.1h1.0M97.0 153.8h1.0M55.0 158.5h1.0M56.4 136.2h1.0M80.5 156.7h1.0M69.3 148.6h1.0M56.8 161.7h1.0M102.3 162.0h1.0M56.9 168.6h1.0M77.6 167.1h1.0M62.0 169.6h1.0M57.3 142.3h1.0M55.3 159.9h1.0M83.7 167.3h1.0M56.6 148.1h1.0M73.2 155.1h1.0M67.4 168.5h1.0M56.3 163.1h1.0M56.3 161.4h1.0M55.0 155.9h1.0M96.6 154.0h1.0M56.2 161.5h1.0M58.0 126.5h1.0M56.1 158.2h1.0M78.5 166.5h1.0M64.9 170.2h1.0M66.1 144.7h1.0M57.1 156.4h1.0M71.5 153.8h1.0M56.4 144.2h1.0M106.5 152.3h1.0M98.8 154.8h1.0M66.9 140.8h1.0M96.4 163.3h1.0M70.7 168.7h1.0M64.3 137.1h1.0M56.6 133.2h1.0M100.5 154.6h1.0M102.8 153.9h1.0M95.3 164.2h1.0M99.5 163.5h1.0M57.3 154.3h1.0M67.8 169.3h1.0M57.0 168.7h1.0M57.2 144.7h1.0M62.2 130.3h1.0M68.4 147.9h1.0M62.1 132.6h1.0M105.7 155.0h1.0M86.6 154.7h1.0M57.0 166.7h1.0M109.7 154.5h1.0M56.2 129.7h1.0M69.1 169.6h1.0M66.4 168.8h1.0M57.1 161.4h1.0M91.6 155.9h1.0M65.5 142.7h1.0M57.3 132.2h1.0M56.1 164.0h1.0M88.8 165.3h1.0M85.7 154.8h1.0M87.9 155.6h1.0M76.7 166.8h1.0M56.5 155.7h1.0M57.0 136.3h1.0M56.9 168.2h1.0M56.4 159.0h1.0M66.1 143.0h1.0M76.1 167.5h1.0M106.4 153.3h1.0M57.4 136.2h1.0M105.7 154.0h1.0M57.0 159.3h1.0M93.5 165.2h1.0M57.2 142.9h1.0M66.9 146.8h1.0M85.7 166.3h1.0M107.8 154.4h1.0M57.0 152.6h1.0M69.7 168.4h1.0M55.0 168.2h1.0M57.4 143.3h1.0M56.0 146.8h1.0M67.0 146.3h1.0M80.0 167.8h1.0M100.2 155.2h1.0M58.1 126.3h1.0M85.7 155.9h1.0M63.6 134.2h1.0M77.0 156.8h1.0M76.9 167.2h1.0M56.7 153.5h1.0M57.1 158.8h1.0M57.3 164.0h1.0M61.1 129.6h1.0M62.7 135.4h1.0M76.7 167.0h1.0M107.3 153.7h1.0M96.7 163.1h1.0M57.0 148.7h1.0M58.3 126.7h1.0M94.9 153.3h1.0M105.8 159.1h1.0M106.0 160.0h1.0M72.5 155.3h1.0M108.5 158.4h1.0M73.0 155.5h1.0M84.0 155.8h1.0M88.6 165.4h1.0M54.6 169.3h1.0M61.7 170.1h1.0M61.2 169.9h1.0M99.4 154.9h1.0M71.0 150.1h1.0M90.8 153.6h1.0M56.9 159.5h1.0M56.2 127.6h1.0M56.2 156.5h1.0M74.7 156.6h1.0M108.7 158.0h1.0M59.6 171.1h1.0M63.9 136.4h1.0M100.9 161.0h1.0M80.2 156.4h1.0M57.0 142.2h1.0M75.6 167.2h1.0M64.1 135.7h1.0M69.4 168.1h1.0M73.5 168.1h1.0M66.3 169.1h1.0M77.6 155.7h1.0M76.0 166.9h1.0M64.9 140.2h1.0M61.9 133.1h1.0M69.6 168.2h1.0M55.8 137.9h1.0M83.4 154.7h1.0M57.2 130.6h1.0M56.7 159.1h1.0M69.4 150.9h1.0M57.4 162.5h1.0M57.4 151.5h1.0M78.6 167.6h1.0M62.4 133.9h1.0M91.0 164.3h1.0M57.2 127.7h1.0M59.4 169.7h1.0M108.0 154.4h1.0M66.3 169.5h1.0M105.6 159.3h1.0M108.5 154.1h1.0M56.4 140.3h1.0" stroke="#22d816" stroke-width="1.0" stroke-opacity="0.70" fill="none"/>
<path d="M78.6 165.5h0.9M102.3 156.5h0.9M101.5 155.7h0.9M73.4 166.2h0.9M85.2 164.2h0.9M58.5 138.9h0.9M62.4 166.3h0.9M98.5 160.6h0.9M57.4 142.9h0.9M109.5 156.0h0.9M102.1 159.0h0.9M96.1 161.8h0.9M107.1 156.8h0.9M89.4 163.9h0.9M57.5 165.6h0.9M63.4 137.7h0.9M66.3 168.4h0.9M58.0 148.0h0.9M95.1 162.2h0.9M88.8 162.2h0.9M90.7 156.3h0.9M58.1 148.8h0.9M73.0 157.2h0.9M102.6 155.7h0.9M101.2 155.5h0.9M58.2 160.0h0.9M88.7 162.1h0.9M108.4 156.6h0.9M58.2 161.0h0.9M105.0 157.5h0.9M61.1 133.5h0.9M58.7 149.6h0.9M70.3 154.0h0.9M58.9 153.7h0.9M73.4 158.1h0.9M63.5 142.0h0.9M58.5 134.4h0.9M67.2 168.1h0.9M65.5 168.3h0.9M60.6 132.3h0.9M67.1 150.6h0.9M66.4 150.6h0.9M58.5 160.4h0.9M108.9 156.1h0.9M68.2 166.6h0.9M64.8 145.3h0.9M60.0 139.1h0.9M98.2 160.1h0.9M58.5 138.0h0.9M58.1 149.3h0.9M85.1 158.1h0.9M58.9 138.9h0.9M57.7 131.6h0.9M97.7 157.2h0.9M57.6 169.6h0.9M70.5 153.5h0.9M88.4 163.3h0.9M58.2 162.3h0.9M96.2 162.6h0.9M68.1 152.0h0.9M69.0 152.8h0.9M64.5 140.4h0.9M58.4 146.7h0.9M92.3 162.9h0.9M92.6 163.6h0.9M107.6 155.8h0.9M73.5 156.6h0.9M58.0 148.0h0.9M98.0 161.7h0.9M100.0 160.5h0.9M77.9 157.2h0.9M88.6 157.0h0.9M58.6 144.8h0.9M78.8 157.9h0.9M82.5 165.3h0.9M57.9 127.9h0.9M63.7 139.6h0.9M97.6 156.2h0.9M76.0 157.9h0.9M95.6 159.6h0.9" stroke="#042600" stroke-width="0.9" stroke-opacity="0.55" fill="none"/>
<path d="M55.7 122.7h1.0M59.3 109.9h1.0M73.2 144.5h1.0M75.3 127.1h1.0M74.3 132.9h1.0M59.1 105.1h1.0M55.4 132.1h1.0M74.6 123.8h1.0M74.7 120.7h1.0M57.2 131.2h1.0M68.5 153.4h1.0M58.4 149.0h1.0M76.9 135.5h1.0M75.0 109.7h1.0M68.6 152.9h1.0M58.5 110.4h1.0M59.4 106.8h1.0M62.7 102.9h1.0M76.0 111.6h1.0M75.4 121.6h1.0M64.4 102.7h1.0M75.3 121.9h1.0M59.3 107.2h1.0M57.3 145.5h1.0M60.3 152.3h1.0M68.9 102.0h1.0M77.4 103.7h1.0M73.4 102.3h1.0M76.0 127.4h1.0M76.3 124.1h1.0M57.0 145.2h1.0M75.3 112.1h1.0M57.9 145.9h1.0M69.0 102.6h1.0M59.7 107.4h1.0M74.0 134.8h1.0M57.2 129.0h1.0M75.5 120.9h1.0M74.7 137.0h1.0M74.8 137.4h1.0M72.8 146.7h1.0M74.7 104.4h1.0M59.3 110.7h1.0M74.6 117.3h1.0M55.4 134.4h1.0M59.3 107.4h1.0M71.3 102.7h1.0M75.0 115.2h1.0M75.2 104.6h1.0M59.9 104.8h1.0M58.4 145.7h1.0M72.5 147.9h1.0M56.8 134.9h1.0M72.3 151.5h1.0M59.5 151.5h1.0M57.4 127.1h1.0M59.8 109.6h1.0M76.2 135.5h1.0M57.5 142.6h1.0M72.7 148.8h1.0M60.4 103.9h1.0M60.2 102.9h1.0M75.2 129.7h1.0M63.8 102.5h1.0M61.0 102.3h1.0M73.3 146.0h1.0M64.8 152.2h1.0M75.1 119.6h1.0M74.4 106.8h1.0M69.7 154.2h1.0M68.0 101.8h1.0M57.4 120.0h1.0M59.8 108.2h1.0M63.2 102.7h1.0M75.3 125.7h1.0M75.6 142.0h1.0M57.5 126.7h1.0M58.0 145.7h1.0M74.6 120.0h1.0M56.7 145.4h1.0M58.0 115.3h1.0M75.5 119.1h1.0" stroke="#1fb816" stroke-width="1.0" stroke-opacity="0.65" fill="none"/>
<path d="M97.6 137.7h0.9M85.7 129.5h0.9M87.5 104.5h0.9M99.3 129.7h0.9M85.0 139.0h0.9M96.6 113.7h0.9M101.1 116.6h0.9M81.2 127.3h0.9M84.5 126.1h0.9M76.8 155.9h0.9M83.4 143.7h0.9M80.8 123.4h0.9M88.1 110.9h0.9M97.4 116.0h0.9M76.7 105.9h0.9M86.3 111.3h0.9M87.9 108.2h0.9M83.3 135.4h0.9M93.6 123.2h0.9M81.4 142.0h0.9M83.2 130.0h0.9M77.8 105.0h0.9M78.3 124.0h0.9M82.5 156.0h0.9M77.2 138.7h0.9M104.2 138.3h0.9M85.7 114.6h0.9M114.0 145.4h0.9M77.9 148.4h0.9M85.7 136.5h0.9M93.1 135.8h0.9M100.4 114.7h0.9M93.7 143.2h0.9M75.9 118.7h0.9M75.4 113.4h0.9M74.7 141.6h0.9M85.6 118.3h0.9M74.3 142.4h0.9M77.2 110.2h0.9M74.3 154.5h0.9M82.9 122.1h0.9M75.7 132.2h0.9M81.1 129.9h0.9M89.0 118.0h0.9M80.3 112.8h0.9M76.3 108.9h0.9M91.6 118.2h0.9M91.4 146.8h0.9M75.9 130.6h0.9M88.5 114.2h0.9M92.5 106.8h0.9M82.9 112.3h0.9M79.6 142.7h0.9M88.8 116.4h0.9M82.4 109.1h0.9M101.5 135.7h0.9M83.0 147.4h0.9M97.4 146.7h0.9M74.8 139.8h0.9M81.0 134.5h0.9M80.8 135.5h0.9M82.0 109.8h0.9M81.9 118.0h0.9M82.9 126.9h0.9M99.1 105.7h0.9M79.3 143.1h0.9M76.4 138.5h0.9M87.0 141.3h0.9M99.9 115.1h0.9M96.8 120.8h0.9M80.5 112.5h0.9M84.6 116.2h0.9M78.0 142.7h0.9M103.7 155.8h0.9M77.8 121.0h0.9M87.2 142.9h0.9M94.6 108.8h0.9M81.5 106.7h0.9M83.1 154.3h0.9M74.8 151.4h0.9M84.3 110.5h0.9M76.5 131.4h0.9M89.1 142.7h0.9M76.0 132.6h0.9M75.2 107.8h0.9M81.5 124.9h0.9M86.1 140.1h0.9M75.3 116.0h0.9M81.6 142.5h0.9M90.6 145.6h0.9M86.1 154.1h0.9M86.6 154.4h0.9M79.5 128.6h0.9M79.1 138.4h0.9M74.8 157.0h0.9M78.3 153.1h0.9M86.4 137.4h0.9M87.0 120.2h0.9M98.2 145.6h0.9M85.1 127.6h0.9M87.7 109.1h0.9M82.2 156.0h0.9M86.5 145.5h0.9M78.2 111.3h0.9M78.8 112.9h0.9M77.8 132.7h0.9M78.9 113.4h0.9M82.4 145.3h0.9M87.0 110.7h0.9M80.5 117.1h0.9M81.9 118.0h0.9M75.4 144.0h0.9M100.9 129.5h0.9M95.8 155.6h0.9M84.5 129.1h0.9M82.0 142.7h0.9M74.8 114.5h0.9M82.4 155.7h0.9M96.9 122.3h0.9M92.3 117.4h0.9M74.6 157.5h0.9M92.0 112.0h0.9M82.6 113.3h0.9M85.2 144.2h0.9M79.6 126.6h0.9M82.7 148.4h0.9M87.6 104.6h0.9M89.9 145.2h0.9M100.9 155.4h0.9M95.3 121.7h0.9M91.2 118.4h0.9M98.1 123.8h0.9M84.5 124.4h0.9M84.6 110.0h0.9M79.0 126.2h0.9M108.7 138.3h0.9M94.4 117.2h0.9M91.5 153.7h0.9M90.3 143.3h0.9M120.1 144.8h0.9M78.7 139.4h0.9M85.3 124.6h0.9M78.6 133.1h0.9M81.2 122.2h0.9M80.3 149.6h0.9M87.3 149.8h0.9M80.3 154.7h0.9M80.0 144.2h0.9M84.3 106.6h0.9M94.9 151.0h0.9M90.9 122.3h0.9M79.2 146.3h0.9M80.5 115.6h0.9M105.7 122.4h0.9M74.0 121.7h0.9M81.4 105.4h0.9M77.3 107.8h0.9M85.0 107.7h0.9M74.6 129.0h0.9M84.6 125.7h0.9M86.8 120.7h0.9M111.6 138.1h0.9M88.2 152.6h0.9M85.1 143.6h0.9M86.3 135.0h0.9M104.2 109.7h0.9M99.6 132.0h0.9M89.7 130.1h0.9M102.5 139.9h0.9M90.5 115.2h0.9M83.9 155.8h0.9M85.6 141.6h0.9M99.1 105.9h0.9M99.1 135.9h0.9M97.2 127.2h0.9M84.5 109.0h0.9M103.3 146.6h0.9M78.4 123.3h0.9M78.6 147.3h0.9M100.0 115.8h0.9M111.1 127.4h0.9M107.5 124.6h0.9M83.2 114.9h0.9M109.7 120.3h0.9M86.4 114.1h0.9M96.8 133.5h0.9M97.8 111.7h0.9M74.0 155.7h0.9M94.5 146.9h0.9M74.0 113.9h0.9M91.1 145.0h0.9M84.8 150.9h0.9M97.5 115.2h0.9M101.7 105.3h0.9M108.2 152.6h0.9M74.5 155.6h0.9M111.1 134.2h0.9M76.5 111.8h0.9M93.6 126.9h0.9M95.2 136.5h0.9M74.7 126.7h0.9M86.8 131.7h0.9M80.9 104.3h0.9M75.4 122.4h0.9M79.5 116.8h0.9M100.0 117.8h0.9M83.9 136.6h0.9M75.0 152.8h0.9M80.3 142.9h0.9M94.3 144.5h0.9M79.9 118.7h0.9M98.5 149.3h0.9M78.7 155.0h0.9M76.4 127.9h0.9M79.2 147.0h0.9M77.1 140.6h0.9M85.1 138.5h0.9M87.8 157.9h0.9M88.0 117.2h0.9M97.4 114.7h0.9M82.7 137.4h0.9M87.9 120.4h0.9M79.9 108.6h0.9M83.6 114.4h0.9M81.6 113.9h0.9M91.4 129.9h0.9M114.0 130.3h0.9M89.9 155.0h0.9M84.5 136.0h0.9M75.9 111.8h0.9M77.0 141.9h0.9M79.5 156.2h0.9M86.3 127.0h0.9M82.5 123.0h0.9M79.8 112.2h0.9M88.9 150.7h0.9M75.6 149.9h0.9M74.8 143.3h0.9M87.8 153.7h0.9M91.9 125.7h0.9M86.3 133.9h0.9M79.5 139.8h0.9M77.7 111.8h0.9M112.9 123.8h0.9M90.9 135.9h0.9M96.7 140.6h0.9M94.6 133.7h0.9M106.5 125.7h0.9M77.3 152.5h0.9M81.2 147.2h0.9M87.9 129.9h0.9M76.4 130.8h0.9M96.2 122.9h0.9M99.7 132.7h0.9M94.6 129.8h0.9M83.8 122.0h0.9M90.6 146.4h0.9M88.3 118.1h0.9M84.9 123.6h0.9M85.5 153.3h0.9M86.5 121.9h0.9M77.1 148.4h0.9M87.1 105.2h0.9M94.7 114.4h0.9M101.0 111.9h0.9M84.6 116.3h0.9M85.7 143.6h0.9M78.4 142.9h0.9M106.8 133.7h0.9M94.7 153.8h0.9M104.8 127.4h0.9M93.4 114.4h0.9M74.4 124.8h0.9M105.6 109.0h0.9M92.7 136.2h0.9M93.2 156.7h0.9M79.3 110.7h0.9M75.3 105.2h0.9M79.8 110.1h0.9M95.8 112.7h0.9M83.2 140.3h0.9M93.9 156.4h0.9M102.5 127.5h0.9M108.2 125.1h0.9M74.2 156.6h0.9M85.6 157.7h0.9M76.7 113.7h0.9M83.5 112.2h0.9M89.5 107.2h0.9M95.1 132.6h0.9M75.8 127.7h0.9M77.8 146.7h0.9M89.6 151.6h0.9M82.0 136.5h0.9M82.3 154.9h0.9M87.7 150.4h0.9M91.7 111.7h0.9M84.5 113.5h0.9M92.2 104.2h0.9M90.4 147.3h0.9M78.3 104.3h0.9M92.8 147.1h0.9M94.4 134.8h0.9M86.2 143.3h0.9M108.1 155.6h0.9M96.0 154.2h0.9M84.5 124.3h0.9M83.2 118.5h0.9M97.3 146.6h0.9M90.1 148.3h0.9M98.4 121.2h0.9M75.4 144.9h0.9M75.7 112.6h0.9M95.9 150.3h0.9M86.8 153.8h0.9M74.9 108.5h0.9M98.4 112.1h0.9M85.4 145.1h0.9M105.3 135.7h0.9M89.5 127.1h0.9M80.2 146.0h0.9M76.8 109.6h0.9M75.3 151.0h0.9M81.8 127.9h0.9M75.8 143.4h0.9M86.2 139.0h0.9M89.3 143.0h0.9M84.7 115.6h0.9M81.3 124.0h0.9M84.6 153.7h0.9M126.6 127.0h0.9M93.7 134.9h0.9M83.7 128.6h0.9M99.2 150.6h0.9M105.9 129.5h0.9M96.8 110.4h0.9M74.0 140.7h0.9M83.0 106.9h0.9M93.9 144.0h0.9M75.5 111.1h0.9M84.1 117.5h0.9M85.8 148.0h0.9M91.8 108.7h0.9M77.8 150.0h0.9M77.3 129.1h0.9M76.6 129.3h0.9M79.1 122.5h0.9M99.4 154.4h0.9M77.4 148.0h0.9M82.0 110.5h0.9M81.4 122.2h0.9M91.3 112.8h0.9M90.4 146.4h0.9M81.7 117.5h0.9M83.6 152.9h0.9M79.9 137.1h0.9M101.0 138.1h0.9M79.0 132.8h0.9M84.6 109.3h0.9M87.7 153.3h0.9M82.3 144.2h0.9M96.8 116.5h0.9M103.0 155.9h0.9M80.8 153.9h0.9M86.9 133.9h0.9M94.5 125.9h0.9M78.3 129.4h0.9M81.6 130.6h0.9M75.7 133.9h0.9M89.2 145.1h0.9M82.1 151.8h0.9M79.1 123.9h0.9M117.8 111.6h0.9M85.3 135.4h0.9M89.4 133.6h0.9M77.3 120.9h0.9M84.7 110.7h0.9M75.9 119.3h0.9M88.1 155.2h0.9M89.0 141.0h0.9M99.4 138.2h0.9M103.7 133.3h0.9M89.5 123.5h0.9M92.1 136.7h0.9M87.1 117.2h0.9M114.1 156.5h0.9M76.1 133.9h0.9M74.9 115.1h0.9M82.0 149.2h0.9M74.4 140.1h0.9M88.7 157.6h0.9M107.5 140.6h0.9M74.2 106.7h0.9M74.9 127.0h0.9M87.6 134.7h0.9M76.7 104.5h0.9M103.8 135.8h0.9M91.4 148.5h0.9M84.7 113.7h0.9M74.9 148.9h0.9M103.8 118.4h0.9M96.1 151.5h0.9M88.1 156.2h0.9M75.4 125.9h0.9M75.9 148.8h0.9M79.6 157.0h0.9M94.4 118.6h0.9M91.0 112.0h0.9M89.5 155.5h0.9M91.7 157.7h0.9M96.3 139.3h0.9M74.9 112.7h0.9M77.0 123.4h0.9M94.0 152.6h0.9M74.3 112.5h0.9M82.8 112.1h0.9M98.4 112.6h0.9M89.2 131.2h0.9M92.3 126.3h0.9M83.2 133.4h0.9M79.5 126.8h0.9M74.5 116.8h0.9M74.5 148.5h0.9M85.9 117.0h0.9M89.2 124.9h0.9M84.0 122.1h0.9M75.1 140.2h0.9M85.3 149.1h0.9M92.1 153.9h0.9M79.5 136.6h0.9M76.6 108.4h0.9M79.5 121.9h0.9M93.6 126.9h0.9M86.3 120.7h0.9M111.5 117.2h0.9M76.9 112.4h0.9M78.8 153.1h0.9M87.3 142.1h0.9M82.7 106.5h0.9M78.2 110.6h0.9M87.3 112.5h0.9M92.9 137.8h0.9M91.8 122.1h0.9M80.8 109.5h0.9M75.2 131.6h0.9M99.4 113.1h0.9M82.3 139.7h0.9M88.9 108.9h0.9M75.1 116.0h0.9M74.8 125.5h0.9M76.2 141.1h0.9M80.5 157.7h0.9M80.4 140.2h0.9M84.8 116.0h0.9M93.8 127.3h0.9M88.3 112.4h0.9M92.1 157.5h0.9M82.6 153.7h0.9M89.3 130.4h0.9M85.1 114.5h0.9M83.0 147.7h0.9M90.4 119.8h0.9M100.9 129.6h0.9M85.9 111.6h0.9M82.3 141.0h0.9M74.9 141.7h0.9M112.6 106.4h0.9M94.6 142.6h0.9M76.5 121.4h0.9M81.4 106.9h0.9M96.2 122.8h0.9M86.8 141.6h0.9M90.9 119.0h0.9M92.8 156.8h0.9M75.3 108.9h0.9M74.5 143.2h0.9M89.0 112.4h0.9M91.1 151.1h0.9M75.6 124.6h0.9M81.7 140.3h0.9M78.7 123.1h0.9M74.1 151.2h0.9M88.0 153.1h0.9M74.3 146.4h0.9M88.1 156.3h0.9M90.0 138.8h0.9M93.6 114.6h0.9M80.7 132.0h0.9M88.4 124.2h0.9M75.6 131.6h0.9M83.7 119.0h0.9M80.0 131.2h0.9M90.7 139.9h0.9M74.4 114.0h0.9M86.6 145.6h0.9M76.6 142.0h0.9M77.7 117.4h0.9M92.9 154.0h0.9M89.5 119.7h0.9M75.1 125.7h0.9M81.6 130.1h0.9M102.6 143.5h0.9M78.1 123.3h0.9M91.1 120.5h0.9M91.0 143.6h0.9M94.7 115.2h0.9M76.8 139.3h0.9M101.9 140.5h0.9M90.2 118.7h0.9M92.5 107.3h0.9M76.6 155.9h0.9M77.2 132.3h0.9M94.0 147.4h0.9M110.6 116.4h0.9M78.0 147.0h0.9M80.6 143.8h0.9M89.3 118.6h0.9M75.2 130.3h0.9M82.0 149.8h0.9M107.0 150.9h0.9M89.5 121.0h0.9M80.2 156.6h0.9M77.8 119.2h0.9M82.6 153.8h0.9M82.6 150.0h0.9M85.5 152.1h0.9M83.4 145.7h0.9M78.6 124.2h0.9M99.3 127.7h0.9M97.5 125.5h0.9M84.1 105.1h0.9M80.9 125.1h0.9M75.7 124.1h0.9M75.6 145.1h0.9M86.0 137.7h0.9M94.9 114.2h0.9M97.8 137.0h0.9M77.1 119.9h0.9M83.7 153.1h0.9M103.9 116.6h0.9M91.9 121.4h0.9M84.8 106.0h0.9M84.5 136.5h0.9M94.5 131.5h0.9M82.0 120.8h0.9M81.7 126.5h0.9M96.5 110.3h0.9M100.1 157.3h0.9M75.9 117.2h0.9M105.5 135.7h0.9M77.2 147.0h0.9M77.1 147.8h0.9M77.3 129.9h0.9M101.5 157.3h0.9M88.7 116.3h0.9M79.2 137.7h0.9M79.4 133.6h0.9M104.3 124.9h0.9M76.3 118.0h0.9M81.2 144.6h0.9M120.9 108.9h0.9M92.4 128.9h0.9M74.2 109.0h0.9M75.0 108.9h0.9M85.6 131.4h0.9M86.5 119.6h0.9M79.7 157.0h0.9M92.4 113.1h0.9M92.6 124.1h0.9M75.2 150.5h0.9M82.3 123.3h0.9M105.7 122.1h0.9M89.5 119.3h0.9M87.6 108.6h0.9M88.8 110.2h0.9M78.3 139.5h0.9M88.0 121.7h0.9M76.8 149.6h0.9M82.8 155.7h0.9M88.1 123.5h0.9M81.8 139.8h0.9M79.5 139.9h0.9M89.4 116.6h0.9M79.4 146.7h0.9M103.1 124.2h0.9M82.0 143.6h0.9M85.1 155.9h0.9M76.0 140.8h0.9M82.4 129.5h0.9M90.8 114.7h0.9M84.7 141.5h0.9M94.4 118.0h0.9M79.3 137.1h0.9M80.8 113.3h0.9M87.9 133.7h0.9M74.8 111.2h0.9M96.0 111.3h0.9M76.3 120.7h0.9M82.7 137.3h0.9M92.1 146.1h0.9M84.2 127.9h0.9M78.9 148.8h0.9M98.4 123.7h0.9M84.9 128.2h0.9M103.2 139.3h0.9M79.6 109.8h0.9M77.2 154.4h0.9M76.7 156.5h0.9M75.7 149.7h0.9M86.5 113.6h0.9M83.1 104.9h0.9M91.1 152.1h0.9M102.0 141.2h0.9M85.1 132.8h0.9M81.0 152.5h0.9M82.2 122.3h0.9M88.3 107.6h0.9M76.4 107.9h0.9M79.8 112.6h0.9M79.7 119.8h0.9" stroke="#1fa418" stroke-width="0.9" stroke-opacity="0.55" fill="none"/>
<path d="M98.8 161.6h0.9M126.0 149.8h0.9M131.5 147.4h0.9M98.9 156.6h0.9M128.6 156.4h0.9M96.5 148.0h0.9M90.2 158.5h0.9M114.2 151.7h0.9M125.7 157.8h0.9M107.3 158.9h0.9M122.2 151.5h0.9M130.0 154.7h0.9M98.9 153.8h0.9M97.4 146.5h0.9M118.0 151.7h0.9M96.0 155.7h0.9M129.9 150.8h0.9M109.1 157.5h0.9M87.2 154.1h0.9M126.3 147.4h0.9M102.4 154.9h0.9M119.7 157.6h0.9M116.3 149.9h0.9M93.1 156.7h0.9M128.3 149.3h0.9M122.2 154.8h0.9M95.1 153.4h0.9M123.4 150.3h0.9M90.3 153.1h0.9M108.2 159.6h0.9M103.3 151.5h0.9M106.1 152.7h0.9M86.1 154.9h0.9M124.2 151.1h0.9M111.4 149.5h0.9M91.8 150.7h0.9M121.8 151.9h0.9M122.2 161.7h0.9M117.2 155.7h0.9M117.0 150.1h0.9M129.8 154.7h0.9M104.9 155.7h0.9M109.4 155.7h0.9M125.9 156.3h0.9M103.8 155.5h0.9M112.6 156.0h0.9M94.7 149.1h0.9M106.2 154.8h0.9M109.2 154.4h0.9M128.8 153.4h0.9M95.2 160.6h0.9M112.2 155.6h0.9M110.7 155.4h0.9M100.1 160.8h0.9M119.4 154.7h0.9M115.8 159.2h0.9M103.1 152.5h0.9M115.6 154.2h0.9M117.8 156.9h0.9M119.7 158.2h0.9M90.7 158.3h0.9M88.3 147.1h0.9M97.4 156.6h0.9M90.0 155.5h0.9M108.5 154.0h0.9M107.2 157.4h0.9M103.1 155.5h0.9M91.2 147.8h0.9M96.3 157.6h0.9M91.0 154.2h0.9M118.1 156.5h0.9M95.6 141.0h0.9M87.7 154.2h0.9M128.8 149.9h0.9M104.1 153.4h0.9M129.6 155.4h0.9M109.6 150.0h0.9M121.4 155.6h0.9M124.2 151.5h0.9M104.7 154.4h0.9M127.0 149.1h0.9M111.7 157.2h0.9M107.2 151.3h0.9M111.6 152.6h0.9M125.8 157.4h0.9M126.5 155.8h0.9M131.0 159.6h0.9M115.1 154.5h0.9M124.8 151.9h0.9M99.8 154.4h0.9M118.8 153.6h0.9M115.6 151.3h0.9M116.2 153.5h0.9M106.3 153.3h0.9M100.9 151.0h0.9M91.9 151.9h0.9M116.8 152.4h0.9M100.1 160.9h0.9M111.1 154.7h0.9M119.6 152.1h0.9M89.1 154.8h0.9M119.3 153.6h0.9M103.0 155.7h0.9M109.1 157.6h0.9M105.1 157.5h0.9M99.8 157.4h0.9M130.5 150.8h0.9M96.5 156.9h0.9M130.6 151.5h0.9M124.3 159.2h0.9M104.1 154.1h0.9M91.0 150.8h0.9M87.9 146.3h0.9M95.3 156.6h0.9M106.3 154.3h0.9M93.0 150.8h0.9M109.9 145.6h0.9M127.3 158.3h0.9M97.0 150.1h0.9M87.6 152.5h0.9M106.4 156.9h0.9M113.0 152.3h0.9M118.7 162.4h0.9M91.0 157.5h0.9M99.9 153.8h0.9M103.3 153.2h0.9M91.8 153.3h0.9M93.0 154.1h0.9M96.2 155.5h0.9M94.9 154.9h0.9" stroke="#1fa418" stroke-width="0.9" stroke-opacity="0.50" fill="none"/>
<path d="M56.9 106.9h0.9M58.8 112.8h0.9M55.1 109.1h0.9M59.0 105.0h0.9M58.3 106.0h0.9M59.6 112.6h0.9M57.4 122.1h0.9M54.2 105.3h0.9M58.0 116.3h0.9M58.2 109.8h0.9M56.7 107.9h0.9M56.3 109.9h0.9M57.3 110.3h0.9M55.3 117.5h0.9M54.1 120.8h0.9M56.7 108.8h0.9M54.2 114.7h0.9M56.8 119.1h0.9M55.9 112.7h0.9M59.3 109.8h0.9M59.9 122.7h0.9M59.9 123.8h0.9M55.2 121.1h0.9M57.5 108.3h0.9M60.0 117.6h0.9M58.8 115.7h0.9M54.0 122.1h0.9M54.6 109.4h0.9M57.5 108.1h0.9M56.5 119.0h0.9M54.1 117.9h0.9M54.2 114.0h0.9M57.7 118.4h0.9M53.8 108.0h0.9M59.7 112.2h0.9" stroke="#1c9a16" stroke-width="0.9" stroke-opacity="0.50" fill="none"/>
</g>
<ellipse cx="80.4" cy="140.4" rx="5.5" ry="16.6" transform="rotate(16 80.4 140.4)" fill="#ff7d1a" stroke="#c6e04c" stroke-width="1.1"/>
<text x="90.6" y="122.1" font-size="5.2" fill="#fff" stroke="#fff" stroke-width="0.2" textLength="25.4" lengthAdjust="spacingAndGlyphs">Neutrophil</text>
<path d="M53.2 171.0v3.2M56.5 171.0v2.0M59.7 171.0v2.0M63.0 171.0v2.0M66.2 171.0v2.0M69.5 171.0v3.2M72.8 171.0v2.0M76.0 171.0v2.0M79.3 171.0v2.0M82.5 171.0v2.0M85.8 171.0v3.2M89.1 171.0v2.0M92.3 171.0v2.0M95.6 171.0v2.0M98.8 171.0v2.0M102.1 171.0v3.2M105.4 171.0v2.0M108.6 171.0v2.0M111.9 171.0v2.0M115.1 171.0v2.0M118.4 171.0v3.2M121.7 171.0v2.0M124.9 171.0v2.0M128.2 171.0v2.0M131.4 171.0v2.0M134.7 171.0v3.2M138.0 171.0v2.0" stroke="#333" stroke-width="0.8" fill="none"/>
<text x="68.2" y="180.0" font-size="4.1" fill="#444" text-anchor="middle">50</text>
<text x="84.4" y="180.0" font-size="4.1" fill="#444" text-anchor="middle">100</text>
<text x="100.6" y="180.0" font-size="4.1" fill="#444" text-anchor="middle">150</text>
<text x="116.8" y="180.0" font-size="4.1" fill="#444" text-anchor="middle">200</text>
<text x="133.0" y="180.0" font-size="4.1" fill="#444" text-anchor="middle">250</text>
<path d="M50.0 105.4h3.0M51.2 108.1h1.8M51.2 110.8h1.8M51.2 113.5h1.8M51.2 116.2h1.8M50.0 119.0h3.0M51.2 121.7h1.8M51.2 124.4h1.8M51.2 127.1h1.8M51.2 129.8h1.8M50.0 132.5h3.0M51.2 135.2h1.8M51.2 137.9h1.8M51.2 140.6h1.8M51.2 143.3h1.8M50.0 146.1h3.0M51.2 148.8h1.8M51.2 151.5h1.8M51.2 154.2h1.8M51.2 156.9h1.8M50.0 159.6h3.0M51.2 162.3h1.8M51.2 165.0h1.8M51.2 167.7h1.8M51.2 170.4h1.8" stroke="#333" stroke-width="0.8" fill="none"/>
<text transform="translate(47.6 105.4) rotate(-90)" font-size="4.1" fill="#444" text-anchor="middle">250</text>
<text transform="translate(47.6 119.0) rotate(-90)" font-size="4.1" fill="#444" text-anchor="middle">200</text>
<text transform="translate(47.6 132.5) rotate(-90)" font-size="4.1" fill="#444" text-anchor="middle">150</text>
<text transform="translate(47.6 146.1) rotate(-90)" font-size="4.1" fill="#444" text-anchor="middle">100</text>
<text transform="translate(47.6 159.6) rotate(-90)" font-size="4.1" fill="#444" text-anchor="middle">50</text>
</g>
<g>
<rect x="53.3" y="184.3" width="85.5" height="68.3" fill="#000"/>
<clipPath id="c3"><rect x="53.8" y="184.3" width="85.0" height="68.3"/></clipPath>
<g clip-path="url(#c3)">
<polygon points="61.0,184.3 100.0,184.3 106.0,215.0 114.0,230.0 102.0,246.0 56.0,254.0 56.0,215.0" fill="#18c010" fill-opacity="0.18" filter="url(#bl2)"/>
<polygon points="97.0,234.5 118.0,230.5 137.0,229.5 137.0,233.5 118.0,237.5 99.0,241.5" fill="#1fd015" fill-opacity="0.09" filter="url(#bl2)"/>
<polygon points="66.9,184.3 69.3,184.3 70.6,205.0 71.3,220.0 70.6,232.0 70.0,240.0 73.0,243.6 78.5,240.6 88.0,238.2 99.0,235.4 103.0,236.2 100.0,240.0 90.0,244.8 75.0,248.8 58.0,251.6 57.4,244.0 58.6,232.0 61.4,215.0 64.6,198.0" fill="#2cf01a" filter="url(#bl1)"/>
<path d="M98.1 234.3h1.0M63.9 251.9h1.0M57.9 230.4h1.0M64.4 185.5h1.0M57.4 237.8h1.0M58.0 218.5h1.0M62.2 209.4h1.0M75.0 240.8h1.0M60.8 216.5h1.0M71.7 214.7h1.0M71.2 214.5h1.0M60.4 215.8h1.0M71.0 238.4h1.0M67.0 183.4h1.0M70.9 202.9h1.0M94.2 244.5h1.0M71.2 233.9h1.0M60.9 215.8h1.0M70.0 186.3h1.0M55.6 248.0h1.0M86.6 246.4h1.0M70.8 238.0h1.0M74.6 250.6h1.0M77.6 239.5h1.0M64.0 199.3h1.0M61.2 251.8h1.0M102.1 239.5h1.0M58.1 234.3h1.0M59.3 227.3h1.0M70.4 197.9h1.0M61.0 215.5h1.0M58.2 230.0h1.0M74.1 242.5h1.0M96.5 243.2h1.0M76.2 238.3h1.0M73.5 224.8h1.0M64.1 191.1h1.0M59.5 218.0h1.0M70.1 184.5h1.0M89.9 237.6h1.0M86.2 246.8h1.0M70.8 203.4h1.0M74.9 251.0h1.0M72.6 206.2h1.0M65.0 186.9h1.0M62.0 205.9h1.0M71.5 234.2h1.0M73.2 243.0h1.0M57.6 233.9h1.0M86.0 246.6h1.0M62.0 198.8h1.0M81.4 248.2h1.0M98.6 241.0h1.0M67.3 251.9h1.0M64.7 195.3h1.0M70.4 184.8h1.0M71.2 232.1h1.0M88.9 246.0h1.0M77.0 248.9h1.0M73.3 234.2h1.0M91.6 245.0h1.0M73.2 218.7h1.0M63.9 197.6h1.0M69.6 185.8h1.0M85.1 247.2h1.0M71.5 210.1h1.0M72.3 212.0h1.0M64.0 196.8h1.0M77.8 237.7h1.0M57.4 250.4h1.0M71.0 239.2h1.0M71.0 235.0h1.0M61.5 213.5h1.0M73.6 241.0h1.0M70.9 202.6h1.0M70.6 201.1h1.0M70.9 234.0h1.0M103.3 237.2h1.0M70.0 188.4h1.0M56.2 247.1h1.0M71.5 208.7h1.0M61.0 212.4h1.0M89.0 236.9h1.0M81.1 247.7h1.0M61.8 212.9h1.0M100.1 234.9h1.0M65.4 186.1h1.0M62.5 206.7h1.0M74.4 241.9h1.0M91.5 244.4h1.0M99.1 242.1h1.0M59.1 210.2h1.0M59.6 219.7h1.0M95.3 235.0h1.0M72.2 200.5h1.0M67.5 251.9h1.0M78.4 251.2h1.0M83.2 238.8h1.0M76.3 249.7h1.0M70.7 234.6h1.0M75.6 240.7h1.0M73.1 231.9h1.0M57.6 229.8h1.0M73.2 242.2h1.0M71.7 195.9h1.0M71.3 229.2h1.0M70.0 191.1h1.0M68.9 250.1h1.0M56.2 243.5h1.0M63.1 252.0h1.0M65.3 189.6h1.0M66.3 251.6h1.0M70.9 203.0h1.0M71.6 184.5h1.0M57.2 242.9h1.0M73.1 243.3h1.0M57.3 234.0h1.0M88.2 234.8h1.0M85.7 247.6h1.0M56.8 235.0h1.0M57.6 233.3h1.0M56.8 239.9h1.0M71.5 202.1h1.0M71.3 218.4h1.0M57.6 236.0h1.0M72.5 240.1h1.0M57.6 236.3h1.0M71.8 235.8h1.0M79.0 240.4h1.0M70.2 184.7h1.0M63.1 205.1h1.0M78.8 248.8h1.0M58.5 231.3h1.0M62.9 201.2h1.0M58.1 227.5h1.0M78.8 240.0h1.0M71.5 202.6h1.0M57.4 246.8h1.0M72.8 232.3h1.0M83.1 238.9h1.0M94.8 243.0h1.0M68.7 250.5h1.0M57.4 244.5h1.0M69.8 190.6h1.0M71.3 227.8h1.0M55.8 232.9h1.0M65.4 191.3h1.0M56.5 236.3h1.0M58.9 229.3h1.0M56.9 250.2h1.0M64.2 198.1h1.0M58.8 223.1h1.0M73.5 243.0h1.0M96.3 241.8h1.0M98.1 234.2h1.0M71.2 199.2h1.0M57.3 246.0h1.0M71.0 185.1h1.0M62.7 199.9h1.0M67.6 183.9h1.0M57.1 240.1h1.0M70.2 190.8h1.0M96.5 243.1h1.0M73.1 212.4h1.0M71.0 209.6h1.0M61.5 209.9h1.0M102.1 238.9h1.0M61.6 206.9h1.0M93.6 247.0h1.0M71.2 227.3h1.0M69.9 185.4h1.0M61.8 209.4h1.0M56.5 234.4h1.0M73.7 243.1h1.0M83.6 247.3h1.0M81.7 239.0h1.0M73.8 206.7h1.0M82.2 248.3h1.0M63.1 200.5h1.0M76.8 249.8h1.0M72.4 209.0h1.0M98.4 234.4h1.0M85.3 237.9h1.0M92.0 235.6h1.0M72.2 241.0h1.0M71.1 235.7h1.0M90.5 236.2h1.0M59.4 213.4h1.0M73.5 205.9h1.0M55.5 243.5h1.0M100.0 241.8h1.0M71.2 202.9h1.0M76.7 249.2h1.0M79.8 248.1h1.0M71.5 220.2h1.0M63.9 195.7h1.0M64.5 194.2h1.0M95.2 235.1h1.0M81.3 238.7h1.0M73.6 241.1h1.0M92.1 245.7h1.0M71.2 235.7h1.0M58.5 229.5h1.0M71.2 214.8h1.0M79.1 238.8h1.0M99.7 242.0h1.0M65.7 188.8h1.0M89.5 245.4h1.0M71.1 239.2h1.0M56.9 247.2h1.0M101.8 239.0h1.0M71.4 219.2h1.0M80.1 239.5h1.0M67.4 182.9h1.0M57.0 244.6h1.0M77.7 239.5h1.0M70.7 234.3h1.0M60.9 207.9h1.0M72.5 236.5h1.0M77.2 248.6h1.0M62.7 207.4h1.0M57.7 250.7h1.0M70.9 241.0h1.0M70.6 191.0h1.0M71.9 221.3h1.0M71.5 216.6h1.0M68.1 250.7h1.0M72.5 219.7h1.0M92.3 245.4h1.0M62.7 206.3h1.0M69.7 185.8h1.0M89.9 236.2h1.0M94.0 236.2h1.0M87.5 246.5h1.0M58.6 228.4h1.0M70.6 235.8h1.0M94.7 235.7h1.0M71.7 212.5h1.0M58.0 233.9h1.0M81.5 238.7h1.0M58.9 223.2h1.0M80.9 239.4h1.0M61.5 208.5h1.0M85.3 237.3h1.0M73.7 241.6h1.0M58.5 223.6h1.0M86.6 246.0h1.0M95.3 235.8h1.0M63.9 201.0h1.0M58.9 224.3h1.0M72.4 192.6h1.0M89.1 245.7h1.0M63.3 204.9h1.0M98.8 241.9h1.0M57.4 251.0h1.0M74.1 242.8h1.0M58.2 226.0h1.0M103.5 237.6h1.0M64.1 192.4h1.0" stroke="#22d816" stroke-width="1.0" stroke-opacity="0.70" fill="none"/>
<path d="M59.3 238.5h0.9M90.9 243.4h0.9M68.3 221.4h0.9M70.1 232.6h0.9M98.1 238.6h0.9M62.6 217.2h0.9M80.6 247.0h0.9M69.5 203.6h0.9M79.0 241.1h0.9M92.6 238.3h0.9M89.3 238.0h0.9M68.6 184.6h0.9M65.6 192.6h0.9M68.6 187.1h0.9M88.4 241.3h0.9M67.0 186.6h0.9M84.3 246.0h0.9M57.9 245.1h0.9M79.6 247.3h0.9M64.7 200.7h0.9M79.8 240.7h0.9M59.1 245.4h0.9M64.9 197.4h0.9M70.0 249.1h0.9M59.9 224.0h0.9M64.8 207.0h0.9M69.9 208.9h0.9M80.2 241.3h0.9M66.4 195.0h0.9M67.3 248.6h0.9M68.4 218.8h0.9M97.9 240.9h0.9M96.1 237.4h0.9M92.8 242.3h0.9M80.3 240.7h0.9M69.8 193.6h0.9M98.3 236.6h0.9M68.4 195.8h0.9M94.5 237.6h0.9M60.7 234.8h0.9M60.5 250.5h0.9M68.6 241.4h0.9M67.9 186.1h0.9M83.8 246.2h0.9M59.3 241.4h0.9M67.7 194.6h0.9M61.0 228.2h0.9M59.9 225.9h0.9M58.1 245.8h0.9M65.8 193.9h0.9M60.4 225.3h0.9M66.0 197.8h0.9M70.5 216.3h0.9M65.3 199.5h0.9M70.6 214.8h0.9M77.7 246.3h0.9M70.3 207.6h0.9M60.7 221.7h0.9M60.0 223.7h0.9M62.0 211.9h0.9M62.2 220.7h0.9M59.8 231.7h0.9M66.8 248.4h0.9M61.7 219.0h0.9M58.8 250.1h0.9M62.9 207.4h0.9M58.6 249.6h0.9M70.4 207.6h0.9M98.8 238.2h0.9M60.4 222.8h0.9M83.0 240.0h0.9M62.7 209.3h0.9M58.6 235.8h0.9M60.8 250.3h0.9M60.0 228.4h0.9M57.7 243.9h0.9M70.4 241.5h0.9M58.2 238.6h0.9M70.1 241.8h0.9M65.3 200.8h0.9M69.6 203.7h0.9M93.9 242.9h0.9M61.1 217.7h0.9M66.5 249.8h0.9M59.5 238.5h0.9M99.2 238.9h0.9M66.0 203.0h0.9M67.4 192.0h0.9M65.4 248.3h0.9M67.6 187.3h0.9M61.7 216.0h0.9M70.9 226.9h0.9M70.5 223.3h0.9M66.3 188.9h0.9M96.6 237.2h0.9M78.4 245.6h0.9M86.4 239.0h0.9M90.6 244.2h0.9M96.4 237.2h0.9M65.1 197.0h0.9M66.2 188.6h0.9M81.7 246.9h0.9M70.7 215.5h0.9M82.4 240.1h0.9M87.7 244.9h0.9M68.1 191.0h0.9M58.5 249.1h0.9M89.8 239.7h0.9M57.9 239.1h0.9M69.4 230.9h0.9" stroke="#042600" stroke-width="0.9" stroke-opacity="0.55" fill="none"/>
<path d="M86.8 212.2h1.0M81.8 198.2h1.0M87.0 188.6h1.0M87.1 192.4h1.0M79.5 188.5h1.0M91.2 194.7h1.0M84.0 210.8h1.0M85.5 196.3h1.0M83.7 203.1h1.0M86.4 210.2h1.0M87.5 187.0h1.0M81.3 199.4h1.0M81.8 203.2h1.0M84.5 184.8h1.0M85.2 185.4h1.0M77.8 209.3h1.0M82.5 208.5h1.0M85.5 200.4h1.0M89.3 185.0h1.0M77.4 205.2h1.0M86.0 206.1h1.0M83.5 210.5h1.0M83.3 197.2h1.0M88.6 196.9h1.0M83.4 195.3h1.0M89.3 193.4h1.0M82.2 191.9h1.0M84.4 204.1h1.0M79.1 210.5h1.0M84.4 206.9h1.0M89.3 188.6h1.0M81.9 189.0h1.0M85.5 198.6h1.0M87.1 191.8h1.0M84.3 202.2h1.0M82.9 202.2h1.0M84.8 188.5h1.0M86.2 202.9h1.0M82.5 203.4h1.0M87.3 207.5h1.0M84.7 189.0h1.0M78.6 209.8h1.0M87.8 186.3h1.0M86.6 197.4h1.0M82.5 211.2h1.0M85.5 185.8h1.0M87.7 202.4h1.0M90.8 196.7h1.0M83.1 187.4h1.0M84.0 204.9h1.0M83.8 200.4h1.0M85.8 185.8h1.0M87.4 196.2h1.0M82.6 205.3h1.0M79.1 208.9h1.0M89.4 186.9h1.0M86.0 202.6h1.0M92.4 209.0h1.0M89.8 190.3h1.0M86.4 199.5h1.0M79.1 185.6h1.0M84.1 197.2h1.0M89.0 185.2h1.0M82.7 191.5h1.0M79.5 200.2h1.0M85.7 196.6h1.0M84.1 188.1h1.0M79.3 210.9h1.0M82.6 207.9h1.0M84.2 186.3h1.0M84.9 200.7h1.0M84.6 195.6h1.0M83.4 209.5h1.0M86.5 192.4h1.0M86.9 189.8h1.0M86.8 188.3h1.0M81.8 211.7h1.0M83.2 190.9h1.0M81.4 211.3h1.0M84.6 200.1h1.0M89.4 185.2h1.0M87.6 206.6h1.0M85.4 209.2h1.0M75.8 205.0h1.0M87.1 203.4h1.0M82.3 203.1h1.0M84.5 200.9h1.0M82.9 192.4h1.0M88.2 207.4h1.0M81.1 208.9h1.0M83.7 186.3h1.0M83.2 209.1h1.0M79.9 201.3h1.0M79.6 208.0h1.0M81.4 198.6h1.0M82.9 198.7h1.0M80.7 199.9h1.0M80.0 206.5h1.0M86.4 187.2h1.0M82.8 205.7h1.0M84.7 194.5h1.0M83.0 192.7h1.0M88.5 200.4h1.0M86.2 194.1h1.0M82.6 202.3h1.0M88.0 185.0h1.0M85.4 198.9h1.0M81.0 190.9h1.0M80.4 193.0h1.0M83.7 212.0h1.0M84.6 200.1h1.0M78.9 210.8h1.0M82.9 206.3h1.0M79.8 187.7h1.0M87.8 202.5h1.0M82.8 194.6h1.0M84.8 190.3h1.0M83.0 211.9h1.0M88.0 187.8h1.0M86.8 198.4h1.0M85.4 195.2h1.0M89.0 190.0h1.0M87.3 201.5h1.0M82.0 197.2h1.0M89.5 186.9h1.0M82.9 192.4h1.0M88.8 208.7h1.0M86.1 193.5h1.0M84.1 194.4h1.0M87.7 186.7h1.0M87.1 197.5h1.0M84.4 202.4h1.0M89.5 210.8h1.0M84.7 189.3h1.0M81.8 211.7h1.0M85.8 192.0h1.0M86.6 189.7h1.0M78.3 208.1h1.0M87.8 212.1h1.0M88.3 189.3h1.0M85.1 197.8h1.0M89.1 209.3h1.0M92.1 203.9h1.0M84.3 200.5h1.0M86.4 190.8h1.0M91.5 191.2h1.0M79.9 209.4h1.0M85.6 191.2h1.0M86.5 202.8h1.0M88.5 184.9h1.0M84.5 208.6h1.0M84.7 197.6h1.0M83.9 190.6h1.0M87.6 191.6h1.0M86.9 192.7h1.0M84.1 188.3h1.0M82.7 191.3h1.0M83.4 196.2h1.0M85.3 210.1h1.0M84.8 208.7h1.0M82.2 210.5h1.0M80.5 194.5h1.0M82.7 206.2h1.0M79.8 194.3h1.0M81.0 205.4h1.0M82.7 204.4h1.0M86.2 208.2h1.0M83.0 185.9h1.0M83.2 207.2h1.0M86.7 210.7h1.0M80.7 203.3h1.0M85.0 186.7h1.0M82.4 195.7h1.0M82.7 190.0h1.0M92.1 202.7h1.0M85.4 190.1h1.0M85.0 208.7h1.0M86.2 193.9h1.0M86.8 208.7h1.0M83.5 211.9h1.0M82.3 204.7h1.0M84.4 212.1h1.0M83.9 204.8h1.0M86.7 200.8h1.0M83.8 202.0h1.0M86.0 188.9h1.0M85.0 191.5h1.0M83.7 205.5h1.0M84.0 186.9h1.0M85.9 189.3h1.0M87.9 187.5h1.0M86.9 196.7h1.0M81.6 208.6h1.0M88.4 193.7h1.0M82.9 194.4h1.0M81.2 209.9h1.0M86.2 211.9h1.0M81.2 186.4h1.0M83.4 209.9h1.0M82.3 202.2h1.0M87.0 206.8h1.0M81.7 188.5h1.0M86.2 201.7h1.0M83.9 196.0h1.0M85.3 193.4h1.0M86.2 209.5h1.0M86.0 190.0h1.0M85.3 204.5h1.0M82.8 194.0h1.0M83.1 188.1h1.0M86.1 191.2h1.0M87.0 207.7h1.0M84.4 205.4h1.0M85.0 202.4h1.0M85.0 187.4h1.0M82.6 205.8h1.0M84.1 195.5h1.0M83.2 209.4h1.0M83.8 196.2h1.0M84.7 190.5h1.0M80.7 205.0h1.0M82.2 202.4h1.0M83.7 185.6h1.0M86.4 197.2h1.0M90.0 189.2h1.0M84.2 197.0h1.0M80.7 191.7h1.0M86.0 191.0h1.0M87.9 200.2h1.0M84.1 205.6h1.0M83.3 192.1h1.0M80.6 198.0h1.0M87.0 192.1h1.0M90.6 185.1h1.0M83.8 204.7h1.0M78.6 192.8h1.0M84.5 199.6h1.0M87.2 202.4h1.0M85.1 197.3h1.0M86.5 203.7h1.0M85.3 210.3h1.0M81.0 207.0h1.0M85.4 198.2h1.0M83.5 197.2h1.0M84.1 211.6h1.0M86.9 196.7h1.0M83.6 202.2h1.0M83.8 203.1h1.0M82.3 189.6h1.0M84.4 212.0h1.0M85.5 201.9h1.0M78.7 200.3h1.0M89.1 200.4h1.0M88.6 196.5h1.0M83.9 195.4h1.0M85.1 189.0h1.0M86.5 185.5h1.0M83.7 197.1h1.0M84.7 191.3h1.0M82.7 201.5h1.0M84.1 186.4h1.0" stroke="#22c81a" stroke-width="1.0" stroke-opacity="0.60" fill="none"/>
<path d="M94.2 216.7h1.0M97.6 225.7h1.0M87.4 220.4h1.0M92.1 230.2h1.0M93.1 225.2h1.0M94.7 214.4h1.0M99.6 195.3h1.0M87.8 229.0h1.0M99.2 189.3h1.0M99.7 212.5h1.0M100.1 189.4h1.0M92.3 228.3h1.0M98.0 210.7h1.0M102.3 190.9h1.0M98.6 206.6h1.0M95.5 210.9h1.0M97.7 212.1h1.0M103.7 188.7h1.0M96.5 197.7h1.0M101.4 191.4h1.0M102.2 186.5h1.0M101.3 190.8h1.0M92.3 227.5h1.0M98.2 209.8h1.0M95.3 205.2h1.0M92.5 228.9h1.0M97.7 198.4h1.0M100.8 192.8h1.0M109.1 189.1h1.0M88.0 231.7h1.0M93.6 215.5h1.0M100.6 197.7h1.0M104.1 189.7h1.0M105.3 186.6h1.0M100.9 189.8h1.0M96.5 212.5h1.0M97.3 209.3h1.0M92.4 221.2h1.0M106.7 186.0h1.0M91.5 231.1h1.0M95.2 195.9h1.0M95.3 225.1h1.0M102.0 190.7h1.0M91.8 231.7h1.0M86.6 230.9h1.0M98.7 218.7h1.0M102.5 199.7h1.0M97.9 208.3h1.0M89.3 230.4h1.0M93.2 218.8h1.0M100.8 193.0h1.0M90.4 230.2h1.0M90.4 233.2h1.0M106.6 186.9h1.0M103.9 186.1h1.0M99.7 194.8h1.0M92.4 194.5h1.0M99.4 205.4h1.0M91.8 229.9h1.0M99.5 204.8h1.0M98.6 203.8h1.0M89.9 235.4h1.0M103.0 185.7h1.0M103.6 191.7h1.0M92.7 230.6h1.0M92.8 205.7h1.0M101.4 205.4h1.0M98.4 204.3h1.0M99.2 195.8h1.0M92.9 224.5h1.0M99.8 202.5h1.0M93.9 223.2h1.0M98.6 194.3h1.0M102.3 186.0h1.0M98.1 206.0h1.0M104.7 192.6h1.0M92.2 216.2h1.0M104.6 185.3h1.0M99.9 203.3h1.0M97.0 220.1h1.0M96.3 211.5h1.0M96.4 209.6h1.0M90.9 218.9h1.0M93.8 211.2h1.0M98.1 203.3h1.0M98.6 210.1h1.0M97.9 208.6h1.0M100.6 211.2h1.0M94.7 217.6h1.0M106.9 190.6h1.0M102.7 187.5h1.0M99.4 203.6h1.0M92.3 235.2h1.0M91.9 217.9h1.0M95.4 213.0h1.0M93.7 216.8h1.0M99.3 195.0h1.0M88.8 230.0h1.0M92.9 224.8h1.0M99.2 203.1h1.0M100.4 207.1h1.0M101.0 188.1h1.0M94.5 211.3h1.0M96.1 211.9h1.0M102.5 187.5h1.0M94.8 217.7h1.0M90.8 225.3h1.0M94.5 210.9h1.0M102.6 188.1h1.0M89.5 234.2h1.0M96.6 199.0h1.0M94.8 209.6h1.0M86.6 233.1h1.0M99.5 205.2h1.0M93.9 234.6h1.0M100.9 208.8h1.0M90.9 227.1h1.0M96.3 189.9h1.0M99.1 202.7h1.0M95.3 211.8h1.0M100.2 193.9h1.0M102.8 191.5h1.0M100.4 199.8h1.0M97.6 207.2h1.0M99.1 185.7h1.0M88.4 229.8h1.0M98.7 206.5h1.0M93.8 228.7h1.0M99.5 212.9h1.0M99.7 202.8h1.0M102.3 189.3h1.0M100.8 190.8h1.0M99.8 208.6h1.0M90.1 231.5h1.0M102.7 200.4h1.0M103.2 209.7h1.0M100.0 188.8h1.0M99.0 201.8h1.0M97.7 198.8h1.0M96.1 214.4h1.0M99.8 199.1h1.0M97.9 211.3h1.0M100.6 202.4h1.0M103.9 186.0h1.0M93.9 222.3h1.0M89.3 231.1h1.0M99.3 211.6h1.0M87.9 232.8h1.0M97.5 199.1h1.0M97.1 201.1h1.0M98.5 209.4h1.0M94.8 230.1h1.0M95.9 220.4h1.0M94.5 208.9h1.0M97.2 198.7h1.0M97.6 207.5h1.0M89.9 234.8h1.0M101.4 188.8h1.0M100.4 191.5h1.0M94.9 221.7h1.0M94.9 203.9h1.0M99.5 197.5h1.0M101.7 209.1h1.0M101.2 197.1h1.0M94.1 214.4h1.0M99.0 218.4h1.0M101.5 201.1h1.0M92.0 209.5h1.0M89.7 232.1h1.0M93.7 217.2h1.0M94.1 209.6h1.0M94.1 222.8h1.0M97.9 219.2h1.0M108.0 188.9h1.0M90.3 220.8h1.0M98.7 209.9h1.0M92.2 232.5h1.0M100.6 211.1h1.0M93.9 216.9h1.0M94.4 221.9h1.0M101.1 192.2h1.0M107.0 193.2h1.0M101.2 203.2h1.0M92.5 215.2h1.0M98.6 209.1h1.0M103.4 191.6h1.0M89.0 235.2h1.0M98.4 195.2h1.0M88.5 231.5h1.0M92.7 232.5h1.0M95.1 211.2h1.0M104.3 186.0h1.0M93.7 233.6h1.0M97.5 207.0h1.0M98.8 196.4h1.0M105.1 186.5h1.0M98.9 186.0h1.0M95.4 197.8h1.0M99.5 194.0h1.0M97.8 203.3h1.0M93.3 218.2h1.0M96.9 219.8h1.0M90.9 220.2h1.0M104.3 184.8h1.0M94.7 219.1h1.0M93.0 232.5h1.0M94.6 215.8h1.0M98.1 190.9h1.0M95.3 213.1h1.0M98.0 212.7h1.0M96.6 208.7h1.0M97.3 211.5h1.0M97.9 210.1h1.0M100.0 194.5h1.0M103.0 187.8h1.0M92.4 229.0h1.0M98.3 202.3h1.0M91.8 228.4h1.0M102.7 197.6h1.0M93.8 213.0h1.0M98.2 209.4h1.0M95.2 221.9h1.0M91.4 229.0h1.0M95.2 207.1h1.0M93.3 234.7h1.0M95.5 200.1h1.0M97.9 221.5h1.0M94.7 213.3h1.0M96.3 222.1h1.0M95.9 200.5h1.0M95.8 221.4h1.0M92.7 211.5h1.0M97.5 201.9h1.0M96.8 214.1h1.0M92.5 228.6h1.0M93.8 226.8h1.0M97.6 219.2h1.0M102.4 189.1h1.0M94.1 227.0h1.0M90.8 228.2h1.0M90.7 222.3h1.0M99.8 193.8h1.0M96.0 204.0h1.0M97.9 201.8h1.0M95.3 217.2h1.0M100.3 186.4h1.0M93.4 232.0h1.0M102.0 196.4h1.0M93.4 216.3h1.0" stroke="#1fb018" stroke-width="1.0" stroke-opacity="0.55" fill="none"/>
<path d="M116.9 232.9h1.0M103.8 237.2h1.0M121.7 225.8h1.0M132.6 228.9h1.0M130.6 234.4h1.0M99.6 235.6h1.0M104.4 239.7h1.0M120.4 231.4h1.0M120.2 229.9h1.0M104.3 236.6h1.0M118.1 232.4h1.0M129.7 231.3h1.0M119.4 233.7h1.0M118.9 231.1h1.0M108.8 235.4h1.0M121.4 230.5h1.0M118.3 232.2h1.0M116.2 233.9h1.0M117.4 233.4h1.0M105.2 234.4h1.0M109.8 235.0h1.0M120.8 230.4h1.0M100.7 239.2h1.0M116.8 234.7h1.0M102.0 231.8h1.0M112.9 234.7h1.0M118.0 230.3h1.0M100.7 237.7h1.0M129.4 228.0h1.0M108.8 233.8h1.0M106.3 238.8h1.0M111.9 232.4h1.0M119.8 230.8h1.0M100.1 236.3h1.0M125.1 232.7h1.0M100.0 238.8h1.0M100.1 238.2h1.0M121.1 234.9h1.0M133.3 227.4h1.0M99.0 235.1h1.0M131.4 224.4h1.0M100.5 236.9h1.0M127.8 228.7h1.0M113.3 234.0h1.0M101.4 235.3h1.0M123.4 230.6h1.0M104.9 234.6h1.0M123.2 228.3h1.0M132.0 228.3h1.0M113.6 236.8h1.0M130.7 231.7h1.0M119.2 228.8h1.0M109.1 239.2h1.0M131.4 225.8h1.0M111.1 235.6h1.0M127.6 227.0h1.0M126.6 228.3h1.0M127.0 231.3h1.0M120.9 227.3h1.0M99.9 235.9h1.0M99.3 236.1h1.0M128.5 230.5h1.0M102.3 237.3h1.0M103.5 235.0h1.0M125.1 229.9h1.0M119.4 230.2h1.0M118.9 235.0h1.0M117.7 231.9h1.0M114.5 230.6h1.0M103.2 237.6h1.0M124.0 235.0h1.0M117.6 231.1h1.0M111.5 234.9h1.0M118.0 233.2h1.0M130.0 231.0h1.0M125.0 229.9h1.0M126.2 225.9h1.0M105.6 236.0h1.0M110.0 231.1h1.0M114.6 233.1h1.0M109.9 235.9h1.0M113.3 232.1h1.0M106.1 232.2h1.0M111.7 234.4h1.0M122.1 231.4h1.0M132.7 229.3h1.0M108.0 229.9h1.0M105.9 234.0h1.0M101.3 236.8h1.0M129.1 231.5h1.0M117.5 234.5h1.0M117.0 233.4h1.0M104.8 234.2h1.0M115.5 237.7h1.0M107.0 234.4h1.0M117.1 232.2h1.0M122.2 234.2h1.0M110.1 235.9h1.0M124.2 227.2h1.0M119.5 228.9h1.0M105.7 236.7h1.0M128.1 233.9h1.0M100.9 235.2h1.0M115.6 234.1h1.0M128.7 226.3h1.0M125.4 229.5h1.0M108.4 233.4h1.0M115.3 231.8h1.0M117.4 232.1h1.0M128.1 229.0h1.0M104.3 234.3h1.0M134.5 233.6h1.0M112.0 234.6h1.0M132.4 229.2h1.0M106.8 238.6h1.0M104.8 236.4h1.0M125.6 232.2h1.0M111.5 234.2h1.0M101.6 234.7h1.0M124.9 231.5h1.0M117.2 237.1h1.0M104.8 234.8h1.0M131.7 232.2h1.0M117.0 231.1h1.0M104.8 235.1h1.0M106.1 236.6h1.0M120.1 230.4h1.0M119.8 235.8h1.0M128.9 234.3h1.0M117.3 235.1h1.0" stroke="#1fa818" stroke-width="1.0" stroke-opacity="0.50" fill="none"/>
<path d="M64.5 208.5h1.0M65.2 223.8h1.0M64.4 202.5h1.0M60.4 230.2h1.0M68.0 201.0h1.0M63.7 214.2h1.0M64.2 202.9h1.0M64.8 219.0h1.0M67.3 201.1h1.0M61.8 233.1h1.0M63.8 211.3h1.0M61.8 235.0h1.0M64.8 190.9h1.0M68.1 202.1h1.0M60.4 232.3h1.0M67.3 188.7h1.0M66.0 208.8h1.0M64.5 217.7h1.0M63.7 205.8h1.0M68.2 209.7h1.0M60.8 245.5h1.0M56.9 229.4h1.0M67.4 203.6h1.0M54.9 244.8h1.0M66.4 195.0h1.0M68.1 205.4h1.0M65.6 219.9h1.0M65.4 186.7h1.0M63.4 205.7h1.0M59.5 223.3h1.0M60.2 235.8h1.0M63.0 233.2h1.0M62.1 203.7h1.0M62.6 204.4h1.0M64.5 206.2h1.0M62.1 236.8h1.0M64.0 219.5h1.0M66.8 195.9h1.0M59.6 248.0h1.0M63.9 192.5h1.0M62.5 233.4h1.0M61.7 220.3h1.0M65.3 187.2h1.0M58.1 242.6h1.0M57.9 249.7h1.0M67.0 196.0h1.0M63.7 234.1h1.0M59.0 237.3h1.0M64.2 203.2h1.0M61.4 245.4h1.0M66.8 195.4h1.0M62.6 204.3h1.0M62.7 227.9h1.0M66.5 201.6h1.0M64.6 213.1h1.0M63.9 219.0h1.0M60.7 249.4h1.0M60.0 241.3h1.0M68.7 191.9h1.0M68.0 198.1h1.0M54.7 228.3h1.0M62.7 209.2h1.0M63.5 224.8h1.0M67.4 187.2h1.0M59.4 229.4h1.0M65.3 207.3h1.0M66.4 192.0h1.0M67.0 184.8h1.0M61.8 202.0h1.0M58.9 242.9h1.0M64.7 210.8h1.0M61.7 205.3h1.0M56.7 245.6h1.0M64.3 210.1h1.0M59.5 223.5h1.0M64.5 211.4h1.0M66.6 191.5h1.0M61.6 238.2h1.0M62.2 243.1h1.0M55.0 241.1h1.0M65.1 226.9h1.0M66.1 185.5h1.0M61.3 233.7h1.0M64.5 217.2h1.0M62.9 219.0h1.0M65.3 205.3h1.0M62.2 228.4h1.0M59.7 244.2h1.0M66.5 197.5h1.0M69.6 192.7h1.0M67.2 194.7h1.0M63.5 207.1h1.0M63.0 245.3h1.0M60.1 247.2h1.0M66.8 189.8h1.0M66.3 200.6h1.0M64.7 207.6h1.0M57.7 240.1h1.0M57.4 234.4h1.0M63.7 218.8h1.0M67.9 209.1h1.0M64.5 204.5h1.0M66.5 191.7h1.0M63.5 198.5h1.0M62.7 217.6h1.0M64.2 200.2h1.0M62.8 216.0h1.0M62.9 236.4h1.0M66.8 192.8h1.0M65.7 202.8h1.0M66.0 212.0h1.0M61.6 211.6h1.0M65.4 204.9h1.0M64.0 191.7h1.0M64.5 205.3h1.0M59.1 242.1h1.0M63.4 227.0h1.0M61.0 217.4h1.0M71.2 202.7h1.0M60.2 225.4h1.0M54.6 238.8h1.0M66.0 208.9h1.0M66.4 192.3h1.0M65.6 197.1h1.0M66.9 197.1h1.0M60.8 222.5h1.0M66.9 202.4h1.0M69.3 191.6h1.0M57.8 238.2h1.0M63.1 226.0h1.0M61.5 227.7h1.0M58.6 238.2h1.0M64.7 207.1h1.0M62.2 223.0h1.0M64.5 228.9h1.0M60.4 248.8h1.0M64.5 192.0h1.0M60.6 230.7h1.0M63.0 240.9h1.0M66.6 186.3h1.0M56.0 246.2h1.0M55.4 230.6h1.0M62.5 240.9h1.0M68.4 211.8h1.0M67.6 201.2h1.0M66.1 196.6h1.0M59.0 233.9h1.0M57.4 247.3h1.0M59.6 237.6h1.0M63.3 239.1h1.0M59.0 230.9h1.0M68.2 186.3h1.0M62.8 225.1h1.0M68.5 197.4h1.0M65.4 214.6h1.0M65.7 197.5h1.0M59.6 243.6h1.0M62.3 202.0h1.0M59.8 236.9h1.0M61.8 231.8h1.0M68.4 204.3h1.0M59.4 239.8h1.0M62.1 219.3h1.0M60.9 233.2h1.0M62.0 204.6h1.0M63.1 237.5h1.0M65.6 204.5h1.0M60.9 249.8h1.0M57.8 225.7h1.0M60.6 215.5h1.0M61.1 206.8h1.0M63.4 216.2h1.0M55.5 247.4h1.0M62.0 213.8h1.0M62.9 224.3h1.0M58.8 235.3h1.0M69.3 192.2h1.0M63.2 220.1h1.0M62.3 216.0h1.0M65.8 201.1h1.0M57.4 238.6h1.0M65.9 186.6h1.0M59.5 227.0h1.0M57.0 242.2h1.0M66.2 191.4h1.0M64.7 206.4h1.0M63.3 200.2h1.0M62.4 241.7h1.0M63.9 210.7h1.0M62.9 238.0h1.0M66.7 202.5h1.0M64.6 206.2h1.0M67.7 199.8h1.0M65.1 208.0h1.0M65.4 199.0h1.0M56.0 248.8h1.0M56.6 244.8h1.0" stroke="#20c018" stroke-width="1.0" stroke-opacity="0.60" fill="none"/>
<path d="M92.0 232.7h0.9M82.3 189.5h0.9M100.2 191.7h0.9M71.8 234.1h0.9M84.4 196.7h0.9M75.8 193.3h0.9M73.4 224.0h0.9M87.4 236.5h0.9M109.3 208.6h0.9M85.1 221.3h0.9M87.7 186.5h0.9M70.0 192.5h0.9M73.0 201.7h0.9M77.8 214.1h0.9M74.2 191.3h0.9M70.7 222.3h0.9M76.2 211.5h0.9M74.2 205.7h0.9M75.3 195.2h0.9M70.0 189.4h0.9M111.0 227.8h0.9M83.7 191.4h0.9M85.5 238.8h0.9M73.9 224.0h0.9M80.4 209.2h0.9M78.0 214.1h0.9M85.8 190.2h0.9M85.1 208.3h0.9M87.1 213.0h0.9M71.4 226.5h0.9M80.6 206.2h0.9M95.7 224.2h0.9M77.3 186.2h0.9M92.4 195.8h0.9M77.2 225.7h0.9M84.1 186.4h0.9M75.3 237.3h0.9M75.2 237.2h0.9M94.5 236.8h0.9M91.5 209.8h0.9M72.8 228.0h0.9M73.6 220.8h0.9M71.6 189.9h0.9M79.5 213.9h0.9M90.3 195.1h0.9M86.1 216.4h0.9M82.7 230.1h0.9M72.5 237.9h0.9M78.5 208.2h0.9M86.2 210.9h0.9M74.7 200.6h0.9M74.7 194.8h0.9M83.0 233.2h0.9M79.5 216.1h0.9M99.0 224.2h0.9M91.7 209.8h0.9M70.9 202.4h0.9M91.9 230.6h0.9M93.3 203.8h0.9M76.4 208.3h0.9M116.6 239.6h0.9M82.7 204.8h0.9M110.9 214.1h0.9M81.2 216.1h0.9M79.7 211.9h0.9M98.4 227.0h0.9M91.0 223.3h0.9M81.2 215.3h0.9M82.8 188.7h0.9M83.8 195.2h0.9M86.5 192.7h0.9M72.0 209.1h0.9M91.6 197.8h0.9M78.6 197.2h0.9M95.3 186.0h0.9M99.4 224.4h0.9M87.1 208.3h0.9M79.7 185.9h0.9M82.3 203.6h0.9M86.6 239.7h0.9M87.6 229.6h0.9M97.7 228.8h0.9M90.0 231.4h0.9M71.0 191.7h0.9M70.4 212.2h0.9M72.7 210.1h0.9M107.8 207.5h0.9M80.8 212.4h0.9M92.5 213.7h0.9M87.4 194.5h0.9M73.6 195.8h0.9M73.5 211.4h0.9M79.3 199.9h0.9M70.2 228.6h0.9M90.2 186.3h0.9M103.5 198.3h0.9M82.1 190.9h0.9M100.7 222.2h0.9M104.8 229.4h0.9M100.0 188.1h0.9M81.9 192.0h0.9M71.3 198.6h0.9M72.1 192.4h0.9M92.1 200.9h0.9M105.5 226.6h0.9M85.6 211.1h0.9M115.6 196.6h0.9M81.3 199.2h0.9M78.6 217.8h0.9M92.3 213.7h0.9M73.1 202.5h0.9M90.6 221.9h0.9M75.2 211.9h0.9M71.7 192.9h0.9M70.3 231.2h0.9M88.1 221.9h0.9M91.6 217.9h0.9M75.7 238.6h0.9M75.1 191.0h0.9M84.6 235.7h0.9M105.5 236.4h0.9M85.0 221.5h0.9M92.1 226.1h0.9M77.3 217.9h0.9M71.2 225.9h0.9M76.8 210.0h0.9M85.4 199.8h0.9M85.4 199.6h0.9M86.8 226.2h0.9M86.6 230.0h0.9M87.2 208.9h0.9M77.2 204.9h0.9M76.3 201.6h0.9M104.7 224.2h0.9M70.5 222.8h0.9M72.1 227.8h0.9M96.6 224.6h0.9M118.5 202.9h0.9M72.1 193.0h0.9M102.7 235.2h0.9M82.5 206.0h0.9M75.5 214.2h0.9M84.0 188.6h0.9M72.4 219.8h0.9M75.3 207.0h0.9M95.7 232.2h0.9M78.9 186.3h0.9M71.0 215.6h0.9M82.1 214.0h0.9M71.8 185.5h0.9M112.4 233.7h0.9M79.8 189.1h0.9M81.3 214.8h0.9M86.8 231.3h0.9M95.5 222.6h0.9M101.4 235.4h0.9M93.5 202.8h0.9M91.1 235.7h0.9M81.4 226.6h0.9M112.8 206.7h0.9M99.4 188.5h0.9M74.4 214.8h0.9M94.6 204.0h0.9M81.2 218.5h0.9M71.5 222.6h0.9M86.6 234.7h0.9M84.2 211.8h0.9M85.2 231.2h0.9M71.7 206.8h0.9M83.8 221.0h0.9M96.6 212.8h0.9M108.9 225.3h0.9M73.4 206.4h0.9M72.1 216.6h0.9M110.1 217.4h0.9M95.6 210.4h0.9M82.6 203.7h0.9M72.3 220.8h0.9M79.0 200.1h0.9M87.4 216.2h0.9M77.8 226.3h0.9M89.0 219.4h0.9M91.5 211.8h0.9M82.5 226.8h0.9M84.6 231.8h0.9M76.1 197.9h0.9M71.0 230.4h0.9M71.4 209.7h0.9M89.1 205.7h0.9M75.6 197.9h0.9M78.5 188.3h0.9M92.3 200.1h0.9M82.6 201.4h0.9M75.8 216.9h0.9M98.8 239.1h0.9M99.6 192.4h0.9M71.6 209.6h0.9M80.3 200.8h0.9M86.2 189.2h0.9M101.5 186.7h0.9M81.2 192.6h0.9M79.5 208.9h0.9M87.9 238.2h0.9M90.7 238.8h0.9M91.4 192.5h0.9M81.7 218.7h0.9M96.3 193.0h0.9M93.6 194.4h0.9M91.4 227.0h0.9M85.2 189.0h0.9M72.7 225.6h0.9M72.5 228.8h0.9M70.6 225.4h0.9M71.2 239.9h0.9M81.8 203.3h0.9M81.2 229.7h0.9M85.9 197.4h0.9M73.2 239.8h0.9M86.5 202.3h0.9M78.1 224.9h0.9M89.0 232.1h0.9M72.1 207.2h0.9M97.0 238.4h0.9M84.4 226.6h0.9M78.9 235.6h0.9M100.6 237.4h0.9M86.5 185.7h0.9M73.3 214.1h0.9M70.3 239.6h0.9M70.4 202.1h0.9M72.8 205.0h0.9M71.3 228.2h0.9M81.8 212.0h0.9M92.5 190.3h0.9M84.1 211.4h0.9M95.1 216.0h0.9M76.6 211.3h0.9M88.7 211.8h0.9M72.4 203.6h0.9M97.6 227.8h0.9M88.1 205.9h0.9M87.9 234.5h0.9M97.4 206.2h0.9M80.8 204.5h0.9M91.2 187.1h0.9M79.4 215.1h0.9M75.6 234.1h0.9M72.7 216.6h0.9M97.2 224.6h0.9M70.4 226.5h0.9M77.5 232.1h0.9M74.0 233.3h0.9M72.1 212.6h0.9M81.7 213.4h0.9M82.9 210.3h0.9M84.9 238.9h0.9M102.5 235.0h0.9M103.3 195.0h0.9M72.2 218.0h0.9M86.5 216.1h0.9M70.9 222.4h0.9M84.3 205.5h0.9M74.0 220.5h0.9M89.4 239.8h0.9M70.3 234.3h0.9M71.6 214.0h0.9M89.5 234.0h0.9M95.4 206.4h0.9M86.9 225.1h0.9M71.4 230.8h0.9M81.5 205.3h0.9M83.5 204.0h0.9M98.1 188.6h0.9M87.3 239.4h0.9M75.5 220.4h0.9M91.1 201.7h0.9M73.2 206.2h0.9M104.5 212.6h0.9M72.5 231.9h0.9M82.7 220.4h0.9M93.0 195.4h0.9M77.9 185.5h0.9M83.9 195.4h0.9M87.4 214.9h0.9M76.0 225.8h0.9M81.8 205.0h0.9M71.4 205.8h0.9M98.3 187.0h0.9M81.9 217.0h0.9M88.0 222.8h0.9M105.3 185.8h0.9M81.2 238.3h0.9M82.9 234.9h0.9M81.6 234.3h0.9M71.9 219.4h0.9M71.3 207.8h0.9M98.6 192.5h0.9M84.3 231.5h0.9M74.8 187.3h0.9M82.0 191.1h0.9M72.3 236.7h0.9M90.7 194.7h0.9M74.0 220.3h0.9M85.9 204.7h0.9M74.7 187.7h0.9M78.5 217.0h0.9M71.5 187.9h0.9M79.0 221.9h0.9M105.5 223.1h0.9M85.5 194.1h0.9M74.9 190.1h0.9M73.1 204.5h0.9M96.8 226.5h0.9M95.9 220.2h0.9M87.6 221.2h0.9M80.3 212.5h0.9M95.9 201.8h0.9M89.4 207.5h0.9M88.8 204.1h0.9M109.6 209.0h0.9M79.5 204.7h0.9M76.7 228.5h0.9M77.4 200.8h0.9M87.9 216.9h0.9M71.2 211.9h0.9M78.3 195.6h0.9M85.5 197.4h0.9M90.4 197.9h0.9M75.0 234.1h0.9M84.3 233.1h0.9M74.4 210.3h0.9M86.4 196.3h0.9M110.4 190.3h0.9M80.3 206.9h0.9M81.0 201.8h0.9M100.9 212.0h0.9M94.7 213.4h0.9M78.4 229.1h0.9M75.0 199.7h0.9M97.6 199.0h0.9M74.4 236.5h0.9M73.1 224.7h0.9M86.1 189.5h0.9M70.7 215.6h0.9M71.2 190.7h0.9M78.4 222.8h0.9M99.6 207.8h0.9M75.7 239.0h0.9M80.4 214.6h0.9M80.7 217.4h0.9M99.9 223.9h0.9M79.6 230.1h0.9M70.4 215.0h0.9M90.2 217.2h0.9M100.9 209.8h0.9M73.1 194.0h0.9M83.3 225.8h0.9M87.1 225.8h0.9M97.0 188.4h0.9M96.3 203.5h0.9M82.5 197.3h0.9M90.7 186.8h0.9M76.9 214.9h0.9M78.0 210.2h0.9M72.6 214.2h0.9M70.6 199.2h0.9M74.9 193.6h0.9M73.2 207.2h0.9M79.5 194.2h0.9M86.4 225.5h0.9M80.7 189.2h0.9M80.6 238.1h0.9M91.3 226.7h0.9M82.4 211.7h0.9M77.4 224.7h0.9M76.1 234.9h0.9M96.4 209.2h0.9M89.9 213.3h0.9M79.7 199.3h0.9M83.5 187.0h0.9M72.7 236.1h0.9M79.0 202.2h0.9M97.6 223.1h0.9M106.8 209.0h0.9M82.8 201.2h0.9M80.0 237.2h0.9M110.1 200.1h0.9M91.8 187.9h0.9M75.4 228.4h0.9M74.0 217.9h0.9M76.8 208.8h0.9M101.5 239.1h0.9M108.1 236.2h0.9M84.5 205.9h0.9M79.9 221.1h0.9M95.6 186.6h0.9M80.9 195.9h0.9M96.6 190.5h0.9M89.4 191.1h0.9M78.8 231.7h0.9M118.2 225.4h0.9M98.4 208.7h0.9M77.4 218.5h0.9M86.3 232.4h0.9M81.7 186.6h0.9M79.5 221.7h0.9M79.4 229.2h0.9M92.7 229.7h0.9M92.2 192.1h0.9M92.4 237.0h0.9M73.8 194.5h0.9M76.6 220.4h0.9M83.8 200.6h0.9M107.5 211.9h0.9M110.3 201.9h0.9M70.9 234.1h0.9M73.7 237.1h0.9M91.7 233.6h0.9M70.1 187.7h0.9M91.4 197.4h0.9" stroke="#1fa418" stroke-width="0.9" stroke-opacity="0.50" fill="none"/>
<path d="M75.1 209.3h1.1M75.0 217.7h1.1M73.6 235.0h1.1M74.0 224.6h1.1M74.8 207.9h1.1M72.1 229.1h1.1M72.6 232.5h1.1M75.3 211.0h1.1M75.3 208.1h1.1M73.5 230.7h1.1M73.5 211.1h1.1M74.0 210.1h1.1M74.1 208.6h1.1M75.0 228.5h1.1M72.6 227.9h1.1M74.5 227.5h1.1M72.5 222.4h1.1M72.8 217.2h1.1M74.1 223.7h1.1M73.9 205.1h1.1M72.1 235.7h1.1M74.0 215.6h1.1M74.0 206.9h1.1M71.9 235.3h1.1M73.2 207.8h1.1M73.2 224.0h1.1M74.6 206.6h1.1M72.2 229.5h1.1M72.2 237.8h1.1M71.8 207.0h1.1M74.6 226.8h1.1M72.2 217.2h1.1M73.5 231.9h1.1M72.5 221.8h1.1M73.4 227.5h1.1M74.4 235.7h1.1M72.0 226.8h1.1M73.2 232.6h1.1M72.3 232.9h1.1M72.8 230.2h1.1" stroke="#010" stroke-width="1.1" stroke-opacity="0.70" fill="none"/>
<path d="M58.7 193.2h0.9M59.4 194.6h0.9M59.7 202.6h0.9M59.8 211.6h0.9M58.6 196.3h0.9M56.5 202.7h0.9M58.7 197.7h0.9M59.3 191.7h0.9M56.9 189.6h0.9M54.6 193.9h0.9M53.8 202.2h0.9M57.5 197.1h0.9M58.7 201.5h0.9M57.9 187.8h0.9M55.6 185.9h0.9M54.5 210.5h0.9M54.4 203.0h0.9M56.0 205.3h0.9M59.2 209.9h0.9M59.8 214.0h0.9M56.1 214.6h0.9M58.5 193.6h0.9M55.6 200.8h0.9M59.0 188.2h0.9M59.3 205.2h0.9M57.4 197.4h0.9M56.0 197.4h0.9M58.2 198.4h0.9M58.1 211.3h0.9M54.1 185.9h0.9" stroke="#1c9a16" stroke-width="0.9" stroke-opacity="0.50" fill="none"/>
</g>
<ellipse cx="81.4" cy="220" rx="6.7" ry="19.6" transform="rotate(14 81.4 220)" fill="url(#og3)" stroke="#cfe8a0" stroke-width="1.1"/>
<text x="91.4" y="201.5" font-size="5.2" fill="#fff" stroke="#fff" stroke-width="0.2" textLength="25.2" lengthAdjust="spacingAndGlyphs">Neutrophil</text>
<path d="M53.5 252.6v3.2M56.8 252.6v2.0M60.0 252.6v2.0M63.3 252.6v2.0M66.5 252.6v2.0M69.8 252.6v3.2M73.1 252.6v2.0M76.3 252.6v2.0M79.6 252.6v2.0M82.8 252.6v2.0M86.1 252.6v3.2M89.4 252.6v2.0M92.6 252.6v2.0M95.9 252.6v2.0M99.1 252.6v2.0M102.4 252.6v3.2M105.7 252.6v2.0M108.9 252.6v2.0M112.2 252.6v2.0M115.4 252.6v2.0M118.7 252.6v3.2M122.0 252.6v2.0M125.2 252.6v2.0M128.5 252.6v2.0M131.7 252.6v2.0M135.0 252.6v3.2M138.3 252.6v2.0" stroke="#333" stroke-width="0.8" fill="none"/>
<text x="68.2" y="261.6" font-size="4.1" fill="#444" text-anchor="middle">50</text>
<text x="84.4" y="261.6" font-size="4.1" fill="#444" text-anchor="middle">100</text>
<text x="100.6" y="261.6" font-size="4.1" fill="#444" text-anchor="middle">150</text>
<text x="116.8" y="261.6" font-size="4.1" fill="#444" text-anchor="middle">200</text>
<text x="133.0" y="261.6" font-size="4.1" fill="#444" text-anchor="middle">250</text>
<path d="M50.3 186.7h3.0M51.5 189.4h1.8M51.5 192.1h1.8M51.5 194.8h1.8M51.5 197.5h1.8M50.3 200.3h3.0M51.5 203.0h1.8M51.5 205.7h1.8M51.5 208.4h1.8M51.5 211.1h1.8M50.3 213.8h3.0M51.5 216.5h1.8M51.5 219.2h1.8M51.5 221.9h1.8M51.5 224.6h1.8M50.3 227.4h3.0M51.5 230.1h1.8M51.5 232.8h1.8M51.5 235.5h1.8M51.5 238.2h1.8M50.3 240.9h3.0M51.5 243.6h1.8M51.5 246.3h1.8M51.5 249.0h1.8M51.5 251.7h1.8" stroke="#333" stroke-width="0.8" fill="none"/>
<text transform="translate(47.6 186.7) rotate(-90)" font-size="4.1" fill="#444" text-anchor="middle">250</text>
<text transform="translate(47.6 200.3) rotate(-90)" font-size="4.1" fill="#444" text-anchor="middle">200</text>
<text transform="translate(47.6 213.8) rotate(-90)" font-size="4.1" fill="#444" text-anchor="middle">150</text>
<text transform="translate(47.6 227.4) rotate(-90)" font-size="4.1" fill="#444" text-anchor="middle">100</text>
<text transform="translate(47.6 240.9) rotate(-90)" font-size="4.1" fill="#444" text-anchor="middle">50</text>
</g>
<g>
<rect x="164.0" y="21.0" width="125.0" height="68.6" fill="#000"/>
<path d="M164.0 89.6 L176 89.3 190 88.8 200 89.3 226 89.2 230.5 88.4 233.4 82 236.2 75 238.3 58 240.5 42 242.6 28 243.8 21.6 244.6 21.6 245.6 30 246.8 45 247.8 62 248.8 78 249.8 89.6 Z" fill="#dc2414" filter="url(#bl0)"/>
<path d="M164.0 74.8H222.4M222.4 21.0V89.6" stroke="#c4c4c4" stroke-width="0.8" fill="none"/>
<text class="b" x="197.3" y="35.0" font-size="11.5" fill="#fff" text-anchor="middle">1.8%</text>
<text x="196.6" y="45.7" font-size="5.5" fill="#fff" stroke="#fff" stroke-width="0.15" text-anchor="middle">Negative</text>
<path d="M164.8 89.6v1.8M168.7 89.6v1.8M171.8 89.6v1.8M174.3 89.6v1.8M176.4 89.6v1.8M178.2 89.6v1.8M179.8 89.6v1.8M181.2 89.6v3.2M190.6 89.6v1.8M196.1 89.6v1.8M200.0 89.6v1.8M203.1 89.6v1.8M205.6 89.6v1.8M207.7 89.6v1.8M209.5 89.6v1.8M211.1 89.6v1.8M212.5 89.6v3.2M221.9 89.6v1.8M227.4 89.6v1.8M231.3 89.6v1.8M234.4 89.6v1.8M236.9 89.6v1.8M239.0 89.6v1.8M240.8 89.6v1.8M242.4 89.6v1.8M243.8 89.6v3.2M253.2 89.6v1.8M258.7 89.6v1.8M262.6 89.6v1.8M265.7 89.6v1.8M268.2 89.6v1.8M270.3 89.6v1.8M272.1 89.6v1.8M273.7 89.6v1.8M275.1 89.6v3.2M284.5 89.6v1.8" stroke="#9a96b8" stroke-width="0.6" fill="none"/>
<text x="181.2" y="97.9" font-size="3.4" fill="#666" text-anchor="middle">10<tspan dy="-1.3" font-size="2.4">1</tspan></text>
<text x="212.5" y="97.9" font-size="3.4" fill="#666" text-anchor="middle">10<tspan dy="-1.3" font-size="2.4">2</tspan></text>
<text x="243.8" y="97.9" font-size="3.4" fill="#666" text-anchor="middle">10<tspan dy="-1.3" font-size="2.4">3</tspan></text>
<text x="275.1" y="97.9" font-size="3.4" fill="#666" text-anchor="middle">10<tspan dy="-1.3" font-size="2.4">4</tspan></text>
<path d="M161.0 89.6h3.0M162.4 86.8h1.6M162.4 84.0h1.6M162.4 81.1h1.6M162.4 78.3h1.6M161.0 75.5h3.0M162.4 72.7h1.6M162.4 69.9h1.6M162.4 67.1h1.6M162.4 64.2h1.6M161.0 61.4h3.0M162.4 58.6h1.6M162.4 55.8h1.6M162.4 53.0h1.6M162.4 50.2h1.6M161.0 47.4h3.0M162.4 44.5h1.6M162.4 41.7h1.6M162.4 38.9h1.6M162.4 36.1h1.6M161.0 33.3h3.0M162.4 30.4h1.6M162.4 27.6h1.6M162.4 24.8h1.6M162.4 22.0h1.6" stroke="#777" stroke-width="0.6" fill="none"/>
<text transform="translate(159.6 75.6) rotate(-90)" font-size="3.5" fill="#555" text-anchor="middle">250</text>
<text transform="translate(159.6 62.6) rotate(-90)" font-size="3.5" fill="#555" text-anchor="middle">500</text>
<text transform="translate(159.6 49.6) rotate(-90)" font-size="3.5" fill="#555" text-anchor="middle">750</text>
<text transform="translate(159.6 35.6) rotate(-90)" font-size="3.5" fill="#555" text-anchor="middle">1,000</text>
<text transform="translate(159.6 24.6) rotate(-90)" font-size="3.5" fill="#555" text-anchor="middle">1.2</text>
</g>
<g>
<rect x="164.0" y="103.0" width="125.0" height="68.0" fill="#000"/>
<path d="M164.0 171.0 L180 170.5 190 169.2 199.5 168.1 208 169.0 217 170.2 228 170.2 231 169.8 232.6 168.5 234.1 165 235.7 153 237 137 238.2 128 239.4 120 240.8 110 241.7 103.8 242.6 103.8 243.7 110 245 120 246.2 128 247.4 137 249 153 250 165 251.2 171.0 Z" fill="#dc2414" filter="url(#bl0)"/>
<path d="M164.0 137.1H222.4M222.4 103.0V171.0" stroke="#c4c4c4" stroke-width="0.8" fill="none"/>
<text class="b" x="199.3" y="116.1" font-size="11.5" fill="#fff" text-anchor="middle">8.4%</text>
<text x="196.5" y="127.2" font-size="5.5" fill="#fff" stroke="#fff" stroke-width="0.15" text-anchor="middle">Negative</text>
<path d="M164.8 171.0v1.8M168.7 171.0v1.8M171.8 171.0v1.8M174.3 171.0v1.8M176.4 171.0v1.8M178.2 171.0v1.8M179.8 171.0v1.8M181.2 171.0v3.2M190.6 171.0v1.8M196.1 171.0v1.8M200.0 171.0v1.8M203.1 171.0v1.8M205.6 171.0v1.8M207.7 171.0v1.8M209.5 171.0v1.8M211.1 171.0v1.8M212.5 171.0v3.2M221.9 171.0v1.8M227.4 171.0v1.8M231.3 171.0v1.8M234.4 171.0v1.8M236.9 171.0v1.8M239.0 171.0v1.8M240.8 171.0v1.8M242.4 171.0v1.8M243.8 171.0v3.2M253.2 171.0v1.8M258.7 171.0v1.8M262.6 171.0v1.8M265.7 171.0v1.8M268.2 171.0v1.8M270.3 171.0v1.8M272.1 171.0v1.8M273.7 171.0v1.8M275.1 171.0v3.2M284.5 171.0v1.8" stroke="#9a96b8" stroke-width="0.6" fill="none"/>
<text x="181.2" y="179.3" font-size="3.4" fill="#666" text-anchor="middle">10<tspan dy="-1.3" font-size="2.4">1</tspan></text>
<text x="212.5" y="179.3" font-size="3.4" fill="#666" text-anchor="middle">10<tspan dy="-1.3" font-size="2.4">2</tspan></text>
<text x="243.8" y="179.3" font-size="3.4" fill="#666" text-anchor="middle">10<tspan dy="-1.3" font-size="2.4">3</tspan></text>
<text x="275.1" y="179.3" font-size="3.4" fill="#666" text-anchor="middle">10<tspan dy="-1.3" font-size="2.4">4</tspan></text>
<path d="M161.0 171.0h3.0M162.4 168.2h1.6M162.4 165.4h1.6M162.4 162.6h1.6M162.4 159.8h1.6M161.0 157.0h3.0M162.4 154.2h1.6M162.4 151.5h1.6M162.4 148.7h1.6M162.4 145.9h1.6M161.0 143.1h3.0M162.4 140.3h1.6M162.4 137.5h1.6M162.4 134.7h1.6M162.4 131.9h1.6M161.0 129.1h3.0M162.4 126.3h1.6M162.4 123.5h1.6M162.4 120.8h1.6M162.4 118.0h1.6M161.0 115.2h3.0M162.4 112.4h1.6M162.4 109.6h1.6M162.4 106.8h1.6M162.4 104.0h1.6" stroke="#777" stroke-width="0.6" fill="none"/>
<text transform="translate(159.6 165.5) rotate(-90)" font-size="3.5" fill="#555" text-anchor="middle">100</text>
<text transform="translate(159.6 159.1) rotate(-90)" font-size="3.5" fill="#555" text-anchor="middle">200</text>
<text transform="translate(159.6 152.7) rotate(-90)" font-size="3.5" fill="#555" text-anchor="middle">300</text>
<text transform="translate(159.6 146.3) rotate(-90)" font-size="3.5" fill="#555" text-anchor="middle">400</text>
<text transform="translate(159.6 139.9) rotate(-90)" font-size="3.5" fill="#555" text-anchor="middle">500</text>
<text transform="translate(159.6 133.5) rotate(-90)" font-size="3.5" fill="#555" text-anchor="middle">600</text>
<text transform="translate(159.6 127.1) rotate(-90)" font-size="3.5" fill="#555" text-anchor="middle">700</text>
<text transform="translate(159.6 120.7) rotate(-90)" font-size="3.5" fill="#555" text-anchor="middle">800</text>
<text transform="translate(159.6 114.3) rotate(-90)" font-size="3.5" fill="#555" text-anchor="middle">900</text>
<text transform="translate(159.6 107.9) rotate(-90)" font-size="3.5" fill="#555" text-anchor="middle">1,000</text>
</g>
<rect x="287" y="137.2" width="2.4" height="11.6" fill="#fff"/>
<g>
<rect x="164.0" y="184.3" width="125.0" height="68.3" fill="#000"/>
<path d="M164.0 252.6 L188 252.4 190.5 252.1 194 250.6 198 248.6 201 247.1 203 245.6 204.4 244.3 206 245.2 207.5 244.6 209 243.6 211 245.0 214 247.0 217 248.8 219 249.6 222.5 249.9 229 249.8 232 249.1 234 245.6 235.3 240.6 236.4 231 237.4 226 238.6 220 240.6 208 242.5 197 244 190 245.1 187 245.9 187.2 246.8 193 247.8 203 248.6 214 249.3 226 250.2 240 251.2 249 252 252.6 Z" fill="#dc2414" filter="url(#bl0)"/>
<path d="M164.0 230.3H222.4M222.4 184.3V252.6" stroke="#c4c4c4" stroke-width="0.8" fill="none"/>
<text class="b" x="195.5" y="197.0" font-size="11.5" fill="#fff" text-anchor="middle">19.2%</text>
<text x="196.3" y="209.2" font-size="5.5" fill="#fff" stroke="#fff" stroke-width="0.15" text-anchor="middle">Negative</text>
<path d="M164.8 252.6v1.8M168.7 252.6v1.8M171.8 252.6v1.8M174.3 252.6v1.8M176.4 252.6v1.8M178.2 252.6v1.8M179.8 252.6v1.8M181.2 252.6v3.2M190.6 252.6v1.8M196.1 252.6v1.8M200.0 252.6v1.8M203.1 252.6v1.8M205.6 252.6v1.8M207.7 252.6v1.8M209.5 252.6v1.8M211.1 252.6v1.8M212.5 252.6v3.2M221.9 252.6v1.8M227.4 252.6v1.8M231.3 252.6v1.8M234.4 252.6v1.8M236.9 252.6v1.8M239.0 252.6v1.8M240.8 252.6v1.8M242.4 252.6v1.8M243.8 252.6v3.2M253.2 252.6v1.8M258.7 252.6v1.8M262.6 252.6v1.8M265.7 252.6v1.8M268.2 252.6v1.8M270.3 252.6v1.8M272.1 252.6v1.8M273.7 252.6v1.8M275.1 252.6v3.2M284.5 252.6v1.8" stroke="#9a96b8" stroke-width="0.6" fill="none"/>
<text x="181.2" y="260.9" font-size="3.4" fill="#666" text-anchor="middle">10<tspan dy="-1.3" font-size="2.4">1</tspan></text>
<text x="212.5" y="260.9" font-size="3.4" fill="#666" text-anchor="middle">10<tspan dy="-1.3" font-size="2.4">2</tspan></text>
<text x="243.8" y="260.9" font-size="3.4" fill="#666" text-anchor="middle">10<tspan dy="-1.3" font-size="2.4">3</tspan></text>
<text x="275.1" y="260.9" font-size="3.4" fill="#666" text-anchor="middle">10<tspan dy="-1.3" font-size="2.4">4</tspan></text>
<path d="M161.0 252.6h3.0M162.4 249.8h1.6M162.4 247.0h1.6M162.4 244.2h1.6M162.4 241.4h1.6M161.0 238.6h3.0M162.4 235.8h1.6M162.4 233.0h1.6M162.4 230.2h1.6M162.4 227.4h1.6M161.0 224.6h3.0M162.4 221.8h1.6M162.4 218.9h1.6M162.4 216.1h1.6M162.4 213.3h1.6M161.0 210.5h3.0M162.4 207.7h1.6M162.4 204.9h1.6M162.4 202.1h1.6M162.4 199.3h1.6M161.0 196.5h3.0M162.4 193.7h1.6M162.4 190.9h1.6M162.4 188.1h1.6M162.4 185.3h1.6" stroke="#777" stroke-width="0.6" fill="none"/>
<text transform="translate(159.6 247.1) rotate(-90)" font-size="3.5" fill="#555" text-anchor="middle">50</text>
<text transform="translate(159.6 240.7) rotate(-90)" font-size="3.5" fill="#555" text-anchor="middle">100</text>
<text transform="translate(159.6 234.3) rotate(-90)" font-size="3.5" fill="#555" text-anchor="middle">150</text>
<text transform="translate(159.6 227.9) rotate(-90)" font-size="3.5" fill="#555" text-anchor="middle">200</text>
<text transform="translate(159.6 221.5) rotate(-90)" font-size="3.5" fill="#555" text-anchor="middle">250</text>
<text transform="translate(159.6 215.1) rotate(-90)" font-size="3.5" fill="#555" text-anchor="middle">300</text>
<text transform="translate(159.6 208.7) rotate(-90)" font-size="3.5" fill="#555" text-anchor="middle">350</text>
<text transform="translate(159.6 202.3) rotate(-90)" font-size="3.5" fill="#555" text-anchor="middle">400</text>
<text transform="translate(159.6 195.9) rotate(-90)" font-size="3.5" fill="#555" text-anchor="middle">450</text>
<text transform="translate(159.6 189.5) rotate(-90)" font-size="3.5" fill="#555" text-anchor="middle">500</text>
</g>
<path d="M38.3 24.6L36.9 268.6L132.4 269.0" stroke="#444" stroke-width="0.9" fill="none"/>
<polygon points="38.3,20.6 35.5,25.7 41.0,25.7" fill="#000"/>
<polygon points="136.4,269.0 131.2,266.7 131.2,271.3" fill="#000"/>
<path d="M151.7 24.8L152.3 268.3L248.0 268.5" stroke="#444" stroke-width="0.9" fill="none"/>
<polygon points="151.7,20.8 148.9,25.9 154.4,25.9" fill="#000"/>
<polygon points="252.0,268.5 246.8,266.2 246.8,270.8" fill="#000"/>
<text class="b" x="20.3" y="12.5" font-size="11.6">A</text>
<text class="b" x="2.5" y="58.6" font-size="13.2">HD</text>
<text class="b" x="3.5" y="140.2" font-size="13.2">P1</text>
<text class="b" x="3.4" y="223.6" font-size="13.2">P2</text>
<text class="b" transform="translate(34.1 265.6) rotate(-90)" font-size="12.2" textLength="23.6" lengthAdjust="spacingAndGlyphs">SSC</text>
<text class="b" x="45.2" y="279.4" font-size="11.8" textLength="22.5" lengthAdjust="spacingAndGlyphs">FSC</text>
<text class="b" transform="translate(149.4 269.2) rotate(-90)" font-size="11.6" textLength="55.8" lengthAdjust="spacingAndGlyphs">Cell Count</text>
<text class="b" x="158.4" y="279.4" font-size="11.6">DHR</text>
<text class="b" x="303.2" y="12.6" font-size="11.4">B</text>
<path d="M352.6 17.6V116.3H500.8" stroke="#000" stroke-width="1.6" fill="none" stroke-linecap="square"/>
<path d="M352.6 116.3h-4.6M352.6 83.6h-4.6M352.6 50.9h-4.6M352.6 18.2h-4.6M352.6 116.3v3.8M382.2 116.3v3.8M411.9 116.3v3.8M441.5 116.3v3.8M471.1 116.3v3.8M500.8 116.3v3.8" stroke="#000" stroke-width="1.2" fill="none"/>
<text class="b" x="348.0" y="118.9" font-size="7.3" text-anchor="end">0</text>
<text class="b" x="348.0" y="86.2" font-size="7.3" text-anchor="end">200000</text>
<text class="b" x="348.0" y="53.5" font-size="7.3" text-anchor="end">400000</text>
<text class="b" x="348.0" y="20.8" font-size="7.3" text-anchor="end">600000</text>
<text class="b" x="352.6" y="127.0" font-size="7.3" text-anchor="middle">0</text>
<text class="b" x="382.2" y="127.0" font-size="7.3" text-anchor="middle">10</text>
<text class="b" x="411.9" y="127.0" font-size="7.3" text-anchor="middle">20</text>
<text class="b" x="441.5" y="127.0" font-size="7.3" text-anchor="middle">30</text>
<text class="b" x="471.1" y="127.0" font-size="7.3" text-anchor="middle">40</text>
<text class="b" x="500.8" y="127.0" font-size="7.3" text-anchor="middle">50</text>
<text class="b" x="427.0" y="138.1" font-size="7.9" text-anchor="middle">Time (min)</text>
<text class="b" transform="translate(317.3 68.3) rotate(-90)" font-size="7.5" text-anchor="middle">Relative Light Units</text>
<path d="M352.60 116.30 L355.56 116.30 L358.53 116.30 L361.49 116.30 L364.45 116.30 L367.42 116.05 L370.38 114.83 L373.34 111.07 L376.30 104.53 L379.27 97.99 L382.23 90.63 L385.19 80.00 L388.16 68.07 L391.12 56.79 L394.08 48.45 L397.05 43.38 L400.01 40.44 L402.97 40.27 L405.93 41.58 L408.90 44.20 L411.86 47.63 L414.82 51.23 L417.79 54.66 L420.75 57.77 L423.71 60.55 L426.68 63.00 L429.64 65.12 L432.60 66.76 L435.56 67.90 L438.53 68.72 L441.49 69.13 L444.45 69.21 L447.42 69.21 L450.38 69.21 L453.34 69.21 L456.31 69.21 L459.27 69.21 L462.23 69.33 L465.19 69.46 L468.16 69.58 L471.12 69.70 L474.08 69.89 L477.05 70.07 L480.01 70.25 L482.97 70.44 L485.94 70.57 L488.90 70.71 L491.86 70.85 L494.82 70.98 L497.79 71.12 L500.75 71.26" stroke="#000" stroke-width="1.35" fill="none" stroke-linejoin="round"/>
<path d="M370.38 114.34V115.32M368.88 114.34h3.0M368.88 115.32h3.0M373.34 109.76V112.38M371.84 109.76h3.0M371.84 112.38h3.0M376.30 102.08V106.98M374.80 102.08h3.0M374.80 106.98h3.0M379.27 93.90V102.08M377.77 93.90h3.0M377.77 102.08h3.0M382.23 84.42V96.84M380.73 84.42h3.0M380.73 96.84h3.0M385.19 71.50V88.50M383.69 71.50h3.0M383.69 88.50h3.0M388.16 57.44V78.69M386.66 57.44h3.0M386.66 78.69h3.0M391.12 44.85V68.72M389.62 44.85h3.0M389.62 68.72h3.0M394.08 37.33V59.57M392.58 37.33h3.0M392.58 59.57h3.0M397.05 33.98V52.78M395.55 33.98h3.0M395.55 52.78h3.0M400.01 33.08V47.79M398.51 33.08h3.0M398.51 47.79h3.0M402.97 34.39V46.16M401.47 34.39h3.0M401.47 46.16h3.0M405.93 37.17V45.99M404.43 37.17h3.0M404.43 45.99h3.0M408.90 41.25V47.14M407.40 41.25h3.0M407.40 47.14h3.0M411.86 45.34V49.92M410.36 45.34h3.0M410.36 49.92h3.0M414.82 48.97V53.48M413.32 48.97h3.0M413.32 53.48h3.0M417.79 52.44V56.88M416.29 52.44h3.0M416.29 56.88h3.0M420.75 55.58V59.96M419.25 55.58h3.0M419.25 59.96h3.0M423.71 58.39V62.70M422.21 58.39h3.0M422.21 62.70h3.0M426.68 60.87V65.12M425.18 60.87h3.0M425.18 65.12h3.0M429.64 62.67V67.58M428.14 62.67h3.0M428.14 67.58h3.0M432.60 63.82V69.70M431.10 63.82h3.0M431.10 69.70h3.0M435.56 64.47V71.34M434.06 64.47h3.0M434.06 71.34h3.0M438.53 65.12V72.32M437.03 65.12h3.0M437.03 72.32h3.0M441.49 65.37V72.89M439.99 65.37h3.0M439.99 72.89h3.0M444.45 65.34V73.08M442.95 65.34h3.0M442.95 73.08h3.0M447.42 65.23V73.19M445.92 65.23h3.0M445.92 73.19h3.0M450.38 65.12V73.30M448.88 65.12h3.0M448.88 73.30h3.0M453.34 65.15V73.28M451.84 65.15h3.0M451.84 73.28h3.0M456.31 65.17V73.25M454.81 65.17h3.0M454.81 73.25h3.0M459.27 65.19V73.23M457.77 65.19h3.0M457.77 73.23h3.0M462.23 65.34V73.33M460.73 65.34h3.0M460.73 73.33h3.0M465.19 65.49V73.43M463.69 65.49h3.0M463.69 73.43h3.0M468.16 65.63V73.53M466.66 65.63h3.0M466.66 73.53h3.0M471.12 65.78V73.63M469.62 65.78h3.0M469.62 73.63h3.0M474.08 66.21V73.57M472.58 66.21h3.0M472.58 73.57h3.0M477.05 66.64V73.50M475.55 66.64h3.0M475.55 73.50h3.0M480.01 67.07V73.44M478.51 67.07h3.0M478.51 73.44h3.0M482.97 67.50V73.38M481.47 67.50h3.0M481.47 73.38h3.0M485.94 67.79V73.35M484.44 67.79h3.0M484.44 73.35h3.0M488.90 68.09V73.33M487.40 68.09h3.0M487.40 73.33h3.0M491.86 68.39V73.30M490.36 68.39h3.0M490.36 73.30h3.0M494.82 68.69V73.27M493.32 68.69h3.0M493.32 73.27h3.0M497.79 68.99V73.25M496.29 68.99h3.0M496.29 73.25h3.0M500.75 69.29V73.22M499.25 69.29h3.0M499.25 73.22h3.0" stroke="#000" stroke-width="0.95" fill="none"/>
<path d="M352.60 116.30 L355.56 116.30 L358.53 116.30 L361.49 116.22 L364.45 115.48 L367.42 112.38 L370.38 106.82 L373.34 101.09 L376.30 95.54 L379.27 91.61 L382.23 89.32 L385.19 88.34 L388.16 88.10 L391.12 88.34 L394.08 88.83 L397.05 89.49 L400.01 90.14 L402.97 90.71 L405.93 91.28 L408.90 91.77 L411.86 92.35 L414.82 92.84 L417.79 93.33 L420.75 93.74 L423.71 94.15 L426.68 94.47 L429.64 94.80 L432.60 95.04 L435.56 95.21 L438.53 95.33 L441.49 95.45 L444.45 95.50 L447.42 95.55 L450.38 95.60 L453.34 95.65 L456.31 95.70 L459.27 95.76 L462.23 95.83 L465.19 95.90 L468.16 95.96 L471.12 96.03 L474.08 96.09 L477.05 96.16 L480.01 96.22 L482.97 96.29 L485.94 96.35 L488.90 96.40 L491.86 96.45 L494.82 96.50 L497.79 96.55 L500.75 96.60" stroke="#000" stroke-width="1.35" fill="none" stroke-linejoin="round"/>
<path d="M364.45 114.99V115.97M362.95 114.99h3.0M362.95 115.97h3.0M367.42 111.07V113.68M365.92 111.07h3.0M365.92 113.68h3.0M370.38 104.69V108.94M368.88 104.69h3.0M368.88 108.94h3.0M373.34 98.48V103.71M371.84 98.48h3.0M371.84 103.71h3.0M376.30 92.59V98.48M374.80 92.59h3.0M374.80 98.48h3.0M379.27 88.42V94.80M377.77 88.42h3.0M377.77 94.80h3.0M382.23 86.05V92.59M380.73 86.05h3.0M380.73 92.59h3.0M385.19 85.07V91.61M383.69 85.07h3.0M383.69 91.61h3.0M388.16 84.83V91.37M386.66 84.83h3.0M386.66 91.37h3.0M391.12 85.15V91.53M389.62 85.15h3.0M389.62 91.53h3.0M394.08 85.73V91.94M392.58 85.73h3.0M392.58 91.94h3.0M397.05 86.46V92.51M395.55 86.46h3.0M395.55 92.51h3.0M400.01 87.20V93.08M398.51 87.20h3.0M398.51 93.08h3.0M402.97 87.91V93.51M401.47 87.91h3.0M401.47 93.51h3.0M405.93 88.63V93.94M404.43 88.63h3.0M404.43 93.94h3.0M408.90 89.26V94.29M407.40 89.26h3.0M407.40 94.29h3.0M411.86 89.98V94.72M410.36 89.98h3.0M410.36 94.72h3.0M414.82 90.52V95.15M413.32 90.52h3.0M413.32 95.15h3.0M417.79 91.07V95.59M416.29 91.07h3.0M416.29 95.59h3.0M420.75 91.53V95.94M419.25 91.53h3.0M419.25 95.94h3.0M423.71 91.99V96.30M422.21 91.99h3.0M422.21 96.30h3.0M426.68 92.37V96.57M425.18 92.37h3.0M425.18 96.57h3.0M429.64 92.76V96.84M428.14 92.76h3.0M428.14 96.84h3.0M432.60 93.00V97.09M431.10 93.00h3.0M431.10 97.09h3.0M435.56 93.17V97.25M434.06 93.17h3.0M434.06 97.25h3.0M438.53 93.30V97.36M437.03 93.30h3.0M437.03 97.36h3.0M441.49 93.42V97.48M439.99 93.42h3.0M439.99 97.48h3.0M444.45 93.48V97.53M442.95 93.48h3.0M442.95 97.53h3.0M447.42 93.53V97.58M445.92 93.53h3.0M445.92 97.58h3.0M450.38 93.58V97.62M448.88 93.58h3.0M448.88 97.62h3.0M453.34 93.63V97.67M451.84 93.63h3.0M451.84 97.67h3.0M456.31 93.69V97.71M454.81 93.69h3.0M454.81 97.71h3.0M459.27 93.75V97.77M457.77 93.75h3.0M457.77 97.77h3.0M462.23 93.82V97.84M460.73 93.82h3.0M460.73 97.84h3.0M465.19 93.89V97.90M463.69 93.89h3.0M463.69 97.90h3.0M468.16 93.96V97.96M466.66 93.96h3.0M466.66 97.96h3.0M471.12 94.03V98.02M469.62 94.03h3.0M469.62 98.02h3.0M474.08 94.10V98.08M472.58 94.10h3.0M472.58 98.08h3.0M477.05 94.17V98.15M475.55 94.17h3.0M475.55 98.15h3.0M480.01 94.24V98.21M478.51 94.24h3.0M478.51 98.21h3.0M482.97 94.31V98.27M481.47 94.31h3.0M481.47 98.27h3.0M485.94 94.37V98.33M484.44 94.37h3.0M484.44 98.33h3.0M488.90 94.43V98.38M487.40 94.43h3.0M487.40 98.38h3.0M491.86 94.48V98.42M490.36 94.48h3.0M490.36 98.42h3.0M494.82 94.53V98.47M493.32 94.53h3.0M493.32 98.47h3.0M497.79 94.58V98.51M496.29 94.58h3.0M496.29 98.51h3.0M500.75 94.64V98.56M499.25 94.64h3.0M499.25 98.56h3.0" stroke="#000" stroke-width="0.95" fill="none"/>
<path d="M467.8 45.5H456.5L446.0 53.7" stroke="#000" stroke-width="1.2" fill="none"/>
<polygon points="442.0,57.0 447.4,48.5 451.5,53.7" fill="#000"/>
<path d="M472.0 81.8H460.0L450.3 90.0" stroke="#000" stroke-width="1.2" fill="none"/>
<polygon points="446.3,93.3 451.5,84.7 455.7,89.7" fill="#000"/>
<text x="472.6" y="47.7" font-size="8">HD (n=2)</text>
<text x="477.0" y="84.8" font-size="8">P1&amp;P2</text>
<text class="b" x="307.5" y="142.6" font-size="11.4">C</text>
<path d="M352.4 153.6V262.0H514.6" stroke="#000" stroke-width="1.7" fill="none" stroke-linecap="square"/>
<path d="M352.4 262.0h-4.2M352.4 240.3h-4.2M352.4 218.6h-4.2M352.4 196.9h-4.2M352.4 175.2h-4.2M352.4 153.6h-4.2M380.0 262.0v4M435.2 262.0v4M490.4 262.0v4" stroke="#000" stroke-width="1.2" fill="none"/>
<text class="b" x="348.2" y="264.6" font-size="8.7" text-anchor="end">0</text>
<text class="b" x="348.2" y="242.9" font-size="8.7" text-anchor="end">20</text>
<text class="b" x="348.2" y="221.2" font-size="8.7" text-anchor="end">40</text>
<text class="b" x="348.2" y="199.5" font-size="8.7" text-anchor="end">60</text>
<text class="b" x="348.2" y="177.8" font-size="8.7" text-anchor="end">80</text>
<text class="b" x="348.2" y="156.2" font-size="8.7" text-anchor="end">100</text>
<rect x="365.7" y="262.0" width="13.4" height="-0.0" fill="#fff" stroke="#000" stroke-width="1.4"/>
<rect x="383.2" y="257.7" width="15.2" height="4.3" fill="#000"/>
<rect x="417.9" y="243.1" width="13.4" height="18.9" fill="#fff" stroke="#000" stroke-width="1.4"/>
<rect x="437.9" y="248.7" width="15.3" height="13.3" fill="#000"/>
<rect x="473.1" y="178.1" width="13.4" height="83.9" fill="#fff" stroke="#000" stroke-width="1.4"/>
<rect x="492.3" y="242.5" width="15.1" height="19.5" fill="#000"/>
<path d="M388.5 257.2h5M443 248.2h5M497.3 241.8h5" stroke="#000" stroke-width="0.7" fill="none"/>
<text class="b" x="380.1" y="274.8" font-size="9" text-anchor="middle">Resting</text>
<text class="b" x="434.6" y="274.8" font-size="9" text-anchor="middle">fMLF</text>
<text class="b" x="489.9" y="274.8" font-size="9" text-anchor="middle">PMA</text>
<rect x="363.8" y="158.4" width="12.7" height="6.4" fill="#fff" stroke="#000" stroke-width="1.3"/>
<rect x="363.1" y="169.3" width="14.0" height="8.0" fill="#000"/>
<text class="b" x="382.4" y="165.0" font-size="9">HD (N=1)</text>
<text class="b" x="383.2" y="176.6" font-size="9">Patients (N=2)</text>
<text class="b" transform="translate(328.4 252.4) rotate(-90)" font-size="9">O<tspan dy="2.4" font-size="6">2</tspan><tspan dy="-5.6" font-size="6" dx="-2.8">&#183;-</tspan><tspan dy="3.2"> (nmoles / 10</tspan><tspan dy="-3.4" font-size="6">6</tspan><tspan dy="3.4"> cells)</tspan></text>
</g>
</svg>
</body></html>
